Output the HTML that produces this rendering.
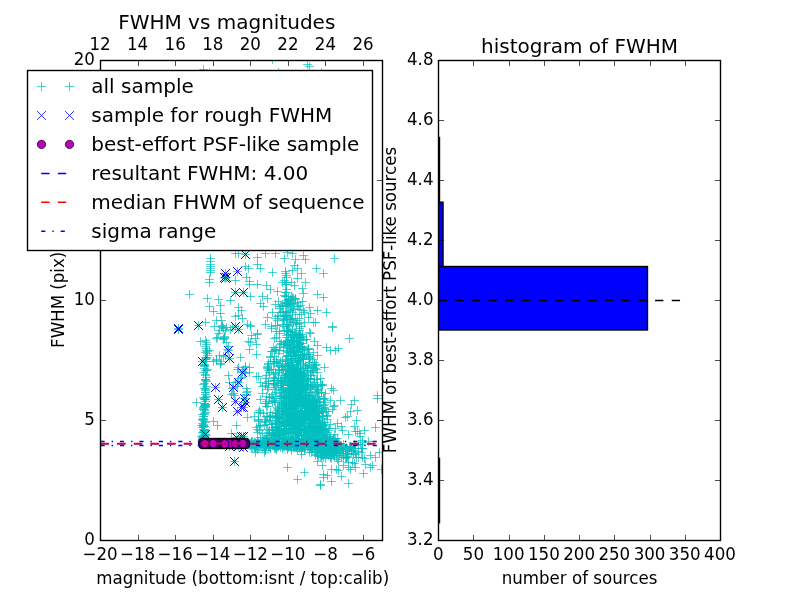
<!DOCTYPE html>
<html><head><meta charset="utf-8"><title>FWHM vs magnitudes</title>
<style>html,body{margin:0;padding:0;background:#fff;width:800px;height:600px;overflow:hidden}</style>
</head><body>
<svg width="800" height="600" viewBox="0 0 800 600" style="display:block;font-family:'DejaVu Sans', 'Liberation Sans', sans-serif">
<rect x="0" y="0" width="800" height="600" fill="#fff"/>
<defs>
<g id="p"><path d="M-4.5 0H4.5M0 -4.5V4.5" stroke="#00bfbf" stroke-width="0.7" fill="none"/></g>
<g id="x"><path d="M-4.4 -4.4L4.4 4.4M-4.4 4.4L4.4 -4.4" stroke="#0000ff" stroke-width="0.8" fill="none"/></g>
<g id="x2"><path d="M-4.4 -4.4L4.4 4.4M-4.4 4.4L4.4 -4.4" stroke="#0000ff" stroke-width="1.0" fill="none"/></g>
<g id="o"><circle r="4.17" fill="#bf00bf" stroke="#000" stroke-width="0.7"/></g>
<clipPath id="c1"><rect x="100.5" y="60.5" width="282.0" height="480.0"/></clipPath>
<clipPath id="c2"><rect x="438.5" y="60.5" width="282.0" height="480.0"/></clipPath>
</defs>
<g clip-path="url(#c1)">
<g id="allsample" stroke="#00bfbf" stroke-width="0.7" fill="none">
<path d="M199.1 435.5h8.8m-4.4-4.4v8.8M201.1 422.5h8.8m-4.4-4.4v8.8M200.1 406.5h8.8m-4.4-4.4v8.8M200.1 405.5h8.8m-4.4-4.4v8.8M198.1 419.5h8.8m-4.4-4.4v8.8M202.1 370.5h8.8m-4.4-4.4v8.8M201.1 399.5h8.8m-4.4-4.4v8.8M198.1 419.5h8.8m-4.4-4.4v8.8M200.1 403.5h8.8m-4.4-4.4v8.8M202.1 357.5h8.8m-4.4-4.4v8.8M199.1 437.5h8.8m-4.4-4.4v8.8M200.1 436.5h8.8m-4.4-4.4v8.8M198.1 439.5h8.8m-4.4-4.4v8.8M199.1 425.5h8.8m-4.4-4.4v8.8M200.1 398.5h8.8m-4.4-4.4v8.8M201.1 379.5h8.8m-4.4-4.4v8.8M198.1 439.5h8.8m-4.4-4.4v8.8M200.1 432.5h8.8m-4.4-4.4v8.8M200.1 388.5h8.8m-4.4-4.4v8.8M201.1 346.5h8.8m-4.4-4.4v8.8M203.1 355.5h8.8m-4.4-4.4v8.8M200.1 364.5h8.8m-4.4-4.4v8.8M199.1 372.5h8.8m-4.4-4.4v8.8M202.1 381.5h8.8m-4.4-4.4v8.8M201.1 390.5h8.8m-4.4-4.4v8.8M201.1 399.5h8.8m-4.4-4.4v8.8M199.1 408.5h8.8m-4.4-4.4v8.8M199.1 416.5h8.8m-4.4-4.4v8.8M197.1 425.5h8.8m-4.4-4.4v8.8M200.1 434.5h8.8m-4.4-4.4v8.8M220.1 336.5h8.8m-4.4-4.4v8.8M220.1 337.5h8.8m-4.4-4.4v8.8M210.1 326.5h8.8m-4.4-4.4v8.8M212.1 360.5h8.8m-4.4-4.4v8.8M213.1 337.5h8.8m-4.4-4.4v8.8M216.1 363.5h8.8m-4.4-4.4v8.8M218.1 327.5h8.8m-4.4-4.4v8.8M218.1 325.5h8.8m-4.4-4.4v8.8M236.1 378.5h8.8m-4.4-4.4v8.8M233.1 381.5h8.8m-4.4-4.4v8.8M233.1 369.5h8.8m-4.4-4.4v8.8M241.1 367.5h8.8m-4.4-4.4v8.8M233.1 386.5h8.8m-4.4-4.4v8.8M228.1 388.5h8.8m-4.4-4.4v8.8M217.1 320.5h8.8m-4.4-4.4v8.8M284.1 296.5h8.8m-4.4-4.4v8.8M284.1 299.5h8.8m-4.4-4.4v8.8M284.1 301.5h8.8m-4.4-4.4v8.8M290.1 303.5h8.8m-4.4-4.4v8.8M286.1 303.5h8.8m-4.4-4.4v8.8M282.1 304.5h8.8m-4.4-4.4v8.8M287.1 306.5h8.8m-4.4-4.4v8.8M293.1 306.5h8.8m-4.4-4.4v8.8M289.1 309.5h8.8m-4.4-4.4v8.8M279.1 311.5h8.8m-4.4-4.4v8.8M288.1 312.5h8.8m-4.4-4.4v8.8M291.1 314.5h8.8m-4.4-4.4v8.8M273.1 316.5h8.8m-4.4-4.4v8.8M279.1 318.5h8.8m-4.4-4.4v8.8M287.1 319.5h8.8m-4.4-4.4v8.8M293.1 320.5h8.8m-4.4-4.4v8.8M291.1 322.5h8.8m-4.4-4.4v8.8M283.1 324.5h8.8m-4.4-4.4v8.8M297.1 326.5h8.8m-4.4-4.4v8.8M288.1 329.5h8.8m-4.4-4.4v8.8M282.1 330.5h8.8m-4.4-4.4v8.8M288.1 331.5h8.8m-4.4-4.4v8.8M290.1 332.5h8.8m-4.4-4.4v8.8M298.1 334.5h8.8m-4.4-4.4v8.8M292.1 334.5h8.8m-4.4-4.4v8.8M290.1 335.5h8.8m-4.4-4.4v8.8M282.1 335.5h8.8m-4.4-4.4v8.8M272.1 337.5h8.8m-4.4-4.4v8.8M295.1 337.5h8.8m-4.4-4.4v8.8M293.1 338.5h8.8m-4.4-4.4v8.8M287.1 339.5h8.8m-4.4-4.4v8.8M289.1 340.5h8.8m-4.4-4.4v8.8M284.1 341.5h8.8m-4.4-4.4v8.8M292.1 342.5h8.8m-4.4-4.4v8.8M294.1 342.5h8.8m-4.4-4.4v8.8M296.1 343.5h8.8m-4.4-4.4v8.8M276.1 344.5h8.8m-4.4-4.4v8.8M283.1 345.5h8.8m-4.4-4.4v8.8M282.1 346.5h8.8m-4.4-4.4v8.8M292.1 346.5h8.8m-4.4-4.4v8.8M269.1 347.5h8.8m-4.4-4.4v8.8M288.1 347.5h8.8m-4.4-4.4v8.8M293.1 348.5h8.8m-4.4-4.4v8.8M272.1 349.5h8.8m-4.4-4.4v8.8M303.1 349.5h8.8m-4.4-4.4v8.8M299.1 350.5h8.8m-4.4-4.4v8.8M275.1 350.5h8.8m-4.4-4.4v8.8M293.1 351.5h8.8m-4.4-4.4v8.8M285.1 352.5h8.8m-4.4-4.4v8.8M294.1 352.5h8.8m-4.4-4.4v8.8M286.1 353.5h8.8m-4.4-4.4v8.8M292.1 354.5h8.8m-4.4-4.4v8.8M284.1 355.5h8.8m-4.4-4.4v8.8M302.1 355.5h8.8m-4.4-4.4v8.8M266.1 356.5h8.8m-4.4-4.4v8.8M291.1 356.5h8.8m-4.4-4.4v8.8M295.1 358.5h8.8m-4.4-4.4v8.8M286.1 358.5h8.8m-4.4-4.4v8.8M299.1 358.5h8.8m-4.4-4.4v8.8M281.1 359.5h8.8m-4.4-4.4v8.8M293.1 360.5h8.8m-4.4-4.4v8.8M295.1 360.5h8.8m-4.4-4.4v8.8M293.1 361.5h8.8m-4.4-4.4v8.8M272.1 362.5h8.8m-4.4-4.4v8.8M292.1 362.5h8.8m-4.4-4.4v8.8M270.1 363.5h8.8m-4.4-4.4v8.8M273.1 363.5h8.8m-4.4-4.4v8.8M288.1 364.5h8.8m-4.4-4.4v8.8M311.1 365.5h8.8m-4.4-4.4v8.8M284.1 365.5h8.8m-4.4-4.4v8.8M283.1 366.5h8.8m-4.4-4.4v8.8M301.1 366.5h8.8m-4.4-4.4v8.8M307.1 366.5h8.8m-4.4-4.4v8.8M277.1 367.5h8.8m-4.4-4.4v8.8M294.1 368.5h8.8m-4.4-4.4v8.8M283.1 368.5h8.8m-4.4-4.4v8.8M296.1 368.5h8.8m-4.4-4.4v8.8M281.1 369.5h8.8m-4.4-4.4v8.8M294.1 369.5h8.8m-4.4-4.4v8.8M283.1 369.5h8.8m-4.4-4.4v8.8M308.1 370.5h8.8m-4.4-4.4v8.8M292.1 370.5h8.8m-4.4-4.4v8.8M286.1 371.5h8.8m-4.4-4.4v8.8M297.1 371.5h8.8m-4.4-4.4v8.8M295.1 372.5h8.8m-4.4-4.4v8.8M313.1 372.5h8.8m-4.4-4.4v8.8M296.1 372.5h8.8m-4.4-4.4v8.8M283.1 373.5h8.8m-4.4-4.4v8.8M297.1 373.5h8.8m-4.4-4.4v8.8M299.1 373.5h8.8m-4.4-4.4v8.8M282.1 374.5h8.8m-4.4-4.4v8.8M293.1 374.5h8.8m-4.4-4.4v8.8M297.1 375.5h8.8m-4.4-4.4v8.8M277.1 375.5h8.8m-4.4-4.4v8.8M307.1 375.5h8.8m-4.4-4.4v8.8M288.1 376.5h8.8m-4.4-4.4v8.8M297.1 376.5h8.8m-4.4-4.4v8.8M291.1 377.5h8.8m-4.4-4.4v8.8M290.1 377.5h8.8m-4.4-4.4v8.8M274.1 378.5h8.8m-4.4-4.4v8.8M274.1 378.5h8.8m-4.4-4.4v8.8M295.1 378.5h8.8m-4.4-4.4v8.8M287.1 378.5h8.8m-4.4-4.4v8.8M313.1 379.5h8.8m-4.4-4.4v8.8M310.1 379.5h8.8m-4.4-4.4v8.8M287.1 379.5h8.8m-4.4-4.4v8.8M296.1 379.5h8.8m-4.4-4.4v8.8M282.1 380.5h8.8m-4.4-4.4v8.8M302.1 380.5h8.8m-4.4-4.4v8.8M293.1 380.5h8.8m-4.4-4.4v8.8M284.1 380.5h8.8m-4.4-4.4v8.8M264.1 381.5h8.8m-4.4-4.4v8.8M294.1 381.5h8.8m-4.4-4.4v8.8M276.1 382.5h8.8m-4.4-4.4v8.8M291.1 382.5h8.8m-4.4-4.4v8.8M293.1 382.5h8.8m-4.4-4.4v8.8M269.1 383.5h8.8m-4.4-4.4v8.8M284.1 383.5h8.8m-4.4-4.4v8.8M294.1 383.5h8.8m-4.4-4.4v8.8M291.1 383.5h8.8m-4.4-4.4v8.8M290.1 384.5h8.8m-4.4-4.4v8.8M318.1 384.5h8.8m-4.4-4.4v8.8M317.1 385.5h8.8m-4.4-4.4v8.8M261.1 385.5h8.8m-4.4-4.4v8.8M284.1 385.5h8.8m-4.4-4.4v8.8M291.1 385.5h8.8m-4.4-4.4v8.8M293.1 386.5h8.8m-4.4-4.4v8.8M306.1 386.5h8.8m-4.4-4.4v8.8M303.1 386.5h8.8m-4.4-4.4v8.8M292.1 387.5h8.8m-4.4-4.4v8.8M292.1 387.5h8.8m-4.4-4.4v8.8M272.1 387.5h8.8m-4.4-4.4v8.8M286.1 387.5h8.8m-4.4-4.4v8.8M279.1 388.5h8.8m-4.4-4.4v8.8M286.1 388.5h8.8m-4.4-4.4v8.8M294.1 388.5h8.8m-4.4-4.4v8.8M290.1 389.5h8.8m-4.4-4.4v8.8M291.1 389.5h8.8m-4.4-4.4v8.8M302.1 389.5h8.8m-4.4-4.4v8.8M278.1 390.5h8.8m-4.4-4.4v8.8M284.1 390.5h8.8m-4.4-4.4v8.8M296.1 390.5h8.8m-4.4-4.4v8.8M296.1 391.5h8.8m-4.4-4.4v8.8M281.1 391.5h8.8m-4.4-4.4v8.8M285.1 392.5h8.8m-4.4-4.4v8.8M305.1 392.5h8.8m-4.4-4.4v8.8M280.1 392.5h8.8m-4.4-4.4v8.8M313.1 392.5h8.8m-4.4-4.4v8.8M258.1 393.5h8.8m-4.4-4.4v8.8M294.1 393.5h8.8m-4.4-4.4v8.8M287.1 393.5h8.8m-4.4-4.4v8.8M289.1 394.5h8.8m-4.4-4.4v8.8M287.1 395.5h8.8m-4.4-4.4v8.8M308.1 395.5h8.8m-4.4-4.4v8.8M295.1 395.5h8.8m-4.4-4.4v8.8M281.1 396.5h8.8m-4.4-4.4v8.8M282.1 396.5h8.8m-4.4-4.4v8.8M305.1 396.5h8.8m-4.4-4.4v8.8M265.1 397.5h8.8m-4.4-4.4v8.8M280.1 397.5h8.8m-4.4-4.4v8.8M281.1 397.5h8.8m-4.4-4.4v8.8M295.1 397.5h8.8m-4.4-4.4v8.8M296.1 398.5h8.8m-4.4-4.4v8.8M305.1 398.5h8.8m-4.4-4.4v8.8M282.1 398.5h8.8m-4.4-4.4v8.8M306.1 398.5h8.8m-4.4-4.4v8.8M319.1 399.5h8.8m-4.4-4.4v8.8M302.1 399.5h8.8m-4.4-4.4v8.8M294.1 400.5h8.8m-4.4-4.4v8.8M310.1 400.5h8.8m-4.4-4.4v8.8M305.1 400.5h8.8m-4.4-4.4v8.8M292.1 401.5h8.8m-4.4-4.4v8.8M288.1 401.5h8.8m-4.4-4.4v8.8M309.1 401.5h8.8m-4.4-4.4v8.8M292.1 401.5h8.8m-4.4-4.4v8.8M290.1 401.5h8.8m-4.4-4.4v8.8M315.1 402.5h8.8m-4.4-4.4v8.8M321.1 402.5h8.8m-4.4-4.4v8.8M303.1 402.5h8.8m-4.4-4.4v8.8M281.1 402.5h8.8m-4.4-4.4v8.8M277.1 402.5h8.8m-4.4-4.4v8.8M290.1 402.5h8.8m-4.4-4.4v8.8M261.1 403.5h8.8m-4.4-4.4v8.8M304.1 403.5h8.8m-4.4-4.4v8.8M304.1 403.5h8.8m-4.4-4.4v8.8M282.1 403.5h8.8m-4.4-4.4v8.8M277.1 404.5h8.8m-4.4-4.4v8.8M280.1 404.5h8.8m-4.4-4.4v8.8M299.1 404.5h8.8m-4.4-4.4v8.8M296.1 404.5h8.8m-4.4-4.4v8.8M311.1 405.5h8.8m-4.4-4.4v8.8M286.1 405.5h8.8m-4.4-4.4v8.8M280.1 405.5h8.8m-4.4-4.4v8.8M315.1 405.5h8.8m-4.4-4.4v8.8M293.1 405.5h8.8m-4.4-4.4v8.8M289.1 406.5h8.8m-4.4-4.4v8.8M312.1 406.5h8.8m-4.4-4.4v8.8M262.1 406.5h8.8m-4.4-4.4v8.8M288.1 406.5h8.8m-4.4-4.4v8.8M278.1 406.5h8.8m-4.4-4.4v8.8M285.1 407.5h8.8m-4.4-4.4v8.8M305.1 407.5h8.8m-4.4-4.4v8.8M296.1 407.5h8.8m-4.4-4.4v8.8M273.1 407.5h8.8m-4.4-4.4v8.8M281.1 408.5h8.8m-4.4-4.4v8.8M284.1 408.5h8.8m-4.4-4.4v8.8M298.1 408.5h8.8m-4.4-4.4v8.8M273.1 408.5h8.8m-4.4-4.4v8.8M307.1 409.5h8.8m-4.4-4.4v8.8M284.1 409.5h8.8m-4.4-4.4v8.8M274.1 409.5h8.8m-4.4-4.4v8.8M279.1 410.5h8.8m-4.4-4.4v8.8M288.1 410.5h8.8m-4.4-4.4v8.8M304.1 410.5h8.8m-4.4-4.4v8.8M310.1 410.5h8.8m-4.4-4.4v8.8M294.1 411.5h8.8m-4.4-4.4v8.8M279.1 411.5h8.8m-4.4-4.4v8.8M277.1 411.5h8.8m-4.4-4.4v8.8M312.1 411.5h8.8m-4.4-4.4v8.8M318.1 412.5h8.8m-4.4-4.4v8.8M256.1 412.5h8.8m-4.4-4.4v8.8M300.1 412.5h8.8m-4.4-4.4v8.8M306.1 412.5h8.8m-4.4-4.4v8.8M315.1 412.5h8.8m-4.4-4.4v8.8M315.1 413.5h8.8m-4.4-4.4v8.8M274.1 413.5h8.8m-4.4-4.4v8.8M304.1 413.5h8.8m-4.4-4.4v8.8M293.1 413.5h8.8m-4.4-4.4v8.8M305.1 413.5h8.8m-4.4-4.4v8.8M291.1 414.5h8.8m-4.4-4.4v8.8M302.1 414.5h8.8m-4.4-4.4v8.8M310.1 414.5h8.8m-4.4-4.4v8.8M303.1 414.5h8.8m-4.4-4.4v8.8M299.1 415.5h8.8m-4.4-4.4v8.8M282.1 415.5h8.8m-4.4-4.4v8.8M307.1 415.5h8.8m-4.4-4.4v8.8M271.1 416.5h8.8m-4.4-4.4v8.8M322.1 416.5h8.8m-4.4-4.4v8.8M296.1 416.5h8.8m-4.4-4.4v8.8M312.1 416.5h8.8m-4.4-4.4v8.8M263.1 416.5h8.8m-4.4-4.4v8.8M285.1 416.5h8.8m-4.4-4.4v8.8M310.1 416.5h8.8m-4.4-4.4v8.8M289.1 417.5h8.8m-4.4-4.4v8.8M291.1 417.5h8.8m-4.4-4.4v8.8M302.1 417.5h8.8m-4.4-4.4v8.8M341.1 417.5h8.8m-4.4-4.4v8.8M309.1 418.5h8.8m-4.4-4.4v8.8M297.1 418.5h8.8m-4.4-4.4v8.8M276.1 418.5h8.8m-4.4-4.4v8.8M283.1 418.5h8.8m-4.4-4.4v8.8M300.1 418.5h8.8m-4.4-4.4v8.8M323.1 419.5h8.8m-4.4-4.4v8.8M299.1 419.5h8.8m-4.4-4.4v8.8M283.1 419.5h8.8m-4.4-4.4v8.8M275.1 419.5h8.8m-4.4-4.4v8.8M287.1 419.5h8.8m-4.4-4.4v8.8M305.1 420.5h8.8m-4.4-4.4v8.8M315.1 420.5h8.8m-4.4-4.4v8.8M281.1 420.5h8.8m-4.4-4.4v8.8M289.1 421.5h8.8m-4.4-4.4v8.8M275.1 421.5h8.8m-4.4-4.4v8.8M308.1 421.5h8.8m-4.4-4.4v8.8M292.1 421.5h8.8m-4.4-4.4v8.8M274.1 421.5h8.8m-4.4-4.4v8.8M311.1 422.5h8.8m-4.4-4.4v8.8M304.1 422.5h8.8m-4.4-4.4v8.8M311.1 422.5h8.8m-4.4-4.4v8.8M315.1 422.5h8.8m-4.4-4.4v8.8M279.1 423.5h8.8m-4.4-4.4v8.8M289.1 423.5h8.8m-4.4-4.4v8.8M297.1 423.5h8.8m-4.4-4.4v8.8M300.1 423.5h8.8m-4.4-4.4v8.8M295.1 423.5h8.8m-4.4-4.4v8.8M326.1 424.5h8.8m-4.4-4.4v8.8M318.1 424.5h8.8m-4.4-4.4v8.8M318.1 424.5h8.8m-4.4-4.4v8.8M296.1 425.5h8.8m-4.4-4.4v8.8M307.1 425.5h8.8m-4.4-4.4v8.8M296.1 425.5h8.8m-4.4-4.4v8.8M289.1 425.5h8.8m-4.4-4.4v8.8M311.1 425.5h8.8m-4.4-4.4v8.8M273.1 426.5h8.8m-4.4-4.4v8.8M310.1 426.5h8.8m-4.4-4.4v8.8M255.1 426.5h8.8m-4.4-4.4v8.8M299.1 426.5h8.8m-4.4-4.4v8.8M317.1 426.5h8.8m-4.4-4.4v8.8M272.1 427.5h8.8m-4.4-4.4v8.8M314.1 427.5h8.8m-4.4-4.4v8.8M290.1 427.5h8.8m-4.4-4.4v8.8M296.1 428.5h8.8m-4.4-4.4v8.8M306.1 428.5h8.8m-4.4-4.4v8.8M283.1 428.5h8.8m-4.4-4.4v8.8M318.1 428.5h8.8m-4.4-4.4v8.8M295.1 428.5h8.8m-4.4-4.4v8.8M300.1 428.5h8.8m-4.4-4.4v8.8M279.1 429.5h8.8m-4.4-4.4v8.8M253.1 429.5h8.8m-4.4-4.4v8.8M292.1 429.5h8.8m-4.4-4.4v8.8M292.1 429.5h8.8m-4.4-4.4v8.8M286.1 429.5h8.8m-4.4-4.4v8.8M320.1 430.5h8.8m-4.4-4.4v8.8M275.1 430.5h8.8m-4.4-4.4v8.8M282.1 430.5h8.8m-4.4-4.4v8.8M284.1 430.5h8.8m-4.4-4.4v8.8M312.1 430.5h8.8m-4.4-4.4v8.8M307.1 430.5h8.8m-4.4-4.4v8.8M310.1 431.5h8.8m-4.4-4.4v8.8M320.1 431.5h8.8m-4.4-4.4v8.8M312.1 431.5h8.8m-4.4-4.4v8.8M305.1 431.5h8.8m-4.4-4.4v8.8M274.1 432.5h8.8m-4.4-4.4v8.8M318.1 432.5h8.8m-4.4-4.4v8.8M311.1 432.5h8.8m-4.4-4.4v8.8M304.1 432.5h8.8m-4.4-4.4v8.8M253.1 432.5h8.8m-4.4-4.4v8.8M287.1 432.5h8.8m-4.4-4.4v8.8M270.1 433.5h8.8m-4.4-4.4v8.8M317.1 433.5h8.8m-4.4-4.4v8.8M287.1 433.5h8.8m-4.4-4.4v8.8M293.1 433.5h8.8m-4.4-4.4v8.8M294.1 433.5h8.8m-4.4-4.4v8.8M271.1 434.5h8.8m-4.4-4.4v8.8M319.1 434.5h8.8m-4.4-4.4v8.8M305.1 434.5h8.8m-4.4-4.4v8.8M271.1 434.5h8.8m-4.4-4.4v8.8M322.1 434.5h8.8m-4.4-4.4v8.8M262.1 435.5h8.8m-4.4-4.4v8.8M276.1 435.5h8.8m-4.4-4.4v8.8M273.1 435.5h8.8m-4.4-4.4v8.8M300.1 435.5h8.8m-4.4-4.4v8.8M312.1 435.5h8.8m-4.4-4.4v8.8M270.1 436.5h8.8m-4.4-4.4v8.8M271.1 436.5h8.8m-4.4-4.4v8.8M299.1 436.5h8.8m-4.4-4.4v8.8M288.1 436.5h8.8m-4.4-4.4v8.8M305.1 437.5h8.8m-4.4-4.4v8.8M279.1 437.5h8.8m-4.4-4.4v8.8M284.1 437.5h8.8m-4.4-4.4v8.8M267.1 437.5h8.8m-4.4-4.4v8.8M314.1 438.5h8.8m-4.4-4.4v8.8M333.1 438.5h8.8m-4.4-4.4v8.8M291.1 438.5h8.8m-4.4-4.4v8.8M311.1 438.5h8.8m-4.4-4.4v8.8M318.1 438.5h8.8m-4.4-4.4v8.8M268.1 438.5h8.8m-4.4-4.4v8.8M284.1 439.5h8.8m-4.4-4.4v8.8M329.1 439.5h8.8m-4.4-4.4v8.8M274.1 439.5h8.8m-4.4-4.4v8.8M268.1 439.5h8.8m-4.4-4.4v8.8M311.1 439.5h8.8m-4.4-4.4v8.8M297.1 440.5h8.8m-4.4-4.4v8.8M306.1 440.5h8.8m-4.4-4.4v8.8M293.1 440.5h8.8m-4.4-4.4v8.8M304.1 440.5h8.8m-4.4-4.4v8.8M306.1 440.5h8.8m-4.4-4.4v8.8M264.1 441.5h8.8m-4.4-4.4v8.8M298.1 441.5h8.8m-4.4-4.4v8.8M292.1 441.5h8.8m-4.4-4.4v8.8M364.1 441.5h8.8m-4.4-4.4v8.8M317.1 441.5h8.8m-4.4-4.4v8.8M308.1 441.5h8.8m-4.4-4.4v8.8M293.1 441.5h8.8m-4.4-4.4v8.8M272.1 442.5h8.8m-4.4-4.4v8.8M293.1 442.5h8.8m-4.4-4.4v8.8M272.1 442.5h8.8m-4.4-4.4v8.8M331.1 442.5h8.8m-4.4-4.4v8.8M314.1 442.5h8.8m-4.4-4.4v8.8M285.1 443.5h8.8m-4.4-4.4v8.8M293.1 443.5h8.8m-4.4-4.4v8.8M293.1 443.5h8.8m-4.4-4.4v8.8M280.1 443.5h8.8m-4.4-4.4v8.8M297.1 443.5h8.8m-4.4-4.4v8.8M313.1 443.5h8.8m-4.4-4.4v8.8M274.1 443.5h8.8m-4.4-4.4v8.8M297.1 444.5h8.8m-4.4-4.4v8.8M275.1 444.5h8.8m-4.4-4.4v8.8M316.1 444.5h8.8m-4.4-4.4v8.8M273.1 444.5h8.8m-4.4-4.4v8.8M272.1 444.5h8.8m-4.4-4.4v8.8M261.1 445.5h8.8m-4.4-4.4v8.8M306.1 445.5h8.8m-4.4-4.4v8.8M285.1 445.5h8.8m-4.4-4.4v8.8M313.1 445.5h8.8m-4.4-4.4v8.8M301.1 445.5h8.8m-4.4-4.4v8.8M289.1 446.5h8.8m-4.4-4.4v8.8M265.1 446.5h8.8m-4.4-4.4v8.8M286.1 446.5h8.8m-4.4-4.4v8.8M284.1 446.5h8.8m-4.4-4.4v8.8M305.1 446.5h8.8m-4.4-4.4v8.8M289.1 446.5h8.8m-4.4-4.4v8.8M251.1 338.5h8.8m-4.4-4.4v8.8M268.1 394.5h8.8m-4.4-4.4v8.8M252.1 376.5h8.8m-4.4-4.4v8.8M268.1 433.5h8.8m-4.4-4.4v8.8M270.1 401.5h8.8m-4.4-4.4v8.8M262.1 401.5h8.8m-4.4-4.4v8.8M253.1 333.5h8.8m-4.4-4.4v8.8M262.1 396.5h8.8m-4.4-4.4v8.8M270.1 361.5h8.8m-4.4-4.4v8.8M253.1 334.5h8.8m-4.4-4.4v8.8M278.1 282.5h8.8m-4.4-4.4v8.8M281.1 273.5h8.8m-4.4-4.4v8.8M324.1 444.5h8.8m-4.4-4.4v8.8M305.1 445.5h8.8m-4.4-4.4v8.8M317.1 448.5h8.8m-4.4-4.4v8.8M295.1 439.5h8.8m-4.4-4.4v8.8M264.1 443.5h8.8m-4.4-4.4v8.8M269.1 442.5h8.8m-4.4-4.4v8.8M256.1 446.5h8.8m-4.4-4.4v8.8M265.1 445.5h8.8m-4.4-4.4v8.8M260.1 447.5h8.8m-4.4-4.4v8.8M290.1 446.5h8.8m-4.4-4.4v8.8M308.1 441.5h8.8m-4.4-4.4v8.8M282.1 444.5h8.8m-4.4-4.4v8.8M299.1 441.5h8.8m-4.4-4.4v8.8M293.1 449.5h8.8m-4.4-4.4v8.8M281.1 445.5h8.8m-4.4-4.4v8.8M313.1 443.5h8.8m-4.4-4.4v8.8M321.1 450.5h8.8m-4.4-4.4v8.8M317.1 444.5h8.8m-4.4-4.4v8.8M261.1 440.5h8.8m-4.4-4.4v8.8M247.1 442.5h8.8m-4.4-4.4v8.8M306.1 447.5h8.8m-4.4-4.4v8.8M251.1 447.5h8.8m-4.4-4.4v8.8M306.1 444.5h8.8m-4.4-4.4v8.8M250.1 446.5h8.8m-4.4-4.4v8.8M272.1 449.5h8.8m-4.4-4.4v8.8M298.1 446.5h8.8m-4.4-4.4v8.8M278.1 447.5h8.8m-4.4-4.4v8.8M279.1 444.5h8.8m-4.4-4.4v8.8M313.1 443.5h8.8m-4.4-4.4v8.8M272.1 445.5h8.8m-4.4-4.4v8.8M296.1 444.5h8.8m-4.4-4.4v8.8M266.1 448.5h8.8m-4.4-4.4v8.8M274.1 443.5h8.8m-4.4-4.4v8.8M306.1 443.5h8.8m-4.4-4.4v8.8M316.1 443.5h8.8m-4.4-4.4v8.8M264.1 444.5h8.8m-4.4-4.4v8.8M324.1 444.5h8.8m-4.4-4.4v8.8M333.1 447.5h8.8m-4.4-4.4v8.8M273.1 443.5h8.8m-4.4-4.4v8.8M304.1 444.5h8.8m-4.4-4.4v8.8M328.1 442.5h8.8m-4.4-4.4v8.8M270.1 448.5h8.8m-4.4-4.4v8.8M250.1 447.5h8.8m-4.4-4.4v8.8M290.1 447.5h8.8m-4.4-4.4v8.8M318.1 444.5h8.8m-4.4-4.4v8.8M281.1 443.5h8.8m-4.4-4.4v8.8M272.1 442.5h8.8m-4.4-4.4v8.8M264.1 444.5h8.8m-4.4-4.4v8.8M286.1 446.5h8.8m-4.4-4.4v8.8M333.1 444.5h8.8m-4.4-4.4v8.8M302.1 444.5h8.8m-4.4-4.4v8.8M271.1 446.5h8.8m-4.4-4.4v8.8M249.1 444.5h8.8m-4.4-4.4v8.8M331.1 445.5h8.8m-4.4-4.4v8.8M281.1 444.5h8.8m-4.4-4.4v8.8M320.1 437.5h8.8m-4.4-4.4v8.8M266.1 443.5h8.8m-4.4-4.4v8.8M316.1 444.5h8.8m-4.4-4.4v8.8M274.1 442.5h8.8m-4.4-4.4v8.8M281.1 443.5h8.8m-4.4-4.4v8.8M251.1 442.5h8.8m-4.4-4.4v8.8M280.1 445.5h8.8m-4.4-4.4v8.8M265.1 444.5h8.8m-4.4-4.4v8.8M305.1 445.5h8.8m-4.4-4.4v8.8M292.1 444.5h8.8m-4.4-4.4v8.8M298.1 446.5h8.8m-4.4-4.4v8.8M303.1 442.5h8.8m-4.4-4.4v8.8M325.1 444.5h8.8m-4.4-4.4v8.8M269.1 445.5h8.8m-4.4-4.4v8.8M284.1 441.5h8.8m-4.4-4.4v8.8M320.1 441.5h8.8m-4.4-4.4v8.8M253.1 443.5h8.8m-4.4-4.4v8.8M289.1 445.5h8.8m-4.4-4.4v8.8M269.1 444.5h8.8m-4.4-4.4v8.8M319.1 445.5h8.8m-4.4-4.4v8.8M318.1 441.5h8.8m-4.4-4.4v8.8M305.1 445.5h8.8m-4.4-4.4v8.8M284.1 444.5h8.8m-4.4-4.4v8.8M332.1 445.5h8.8m-4.4-4.4v8.8M324.1 441.5h8.8m-4.4-4.4v8.8M330.1 442.5h8.8m-4.4-4.4v8.8M261.1 450.5h8.8m-4.4-4.4v8.8M337.1 457.5h8.8m-4.4-4.4v8.8M330.1 449.5h8.8m-4.4-4.4v8.8M327.1 451.5h8.8m-4.4-4.4v8.8M321.1 449.5h8.8m-4.4-4.4v8.8M328.1 448.5h8.8m-4.4-4.4v8.8M324.1 447.5h8.8m-4.4-4.4v8.8M335.1 450.5h8.8m-4.4-4.4v8.8M339.1 447.5h8.8m-4.4-4.4v8.8M318.1 446.5h8.8m-4.4-4.4v8.8M331.1 446.5h8.8m-4.4-4.4v8.8M327.1 452.5h8.8m-4.4-4.4v8.8M300.1 449.5h8.8m-4.4-4.4v8.8M335.1 450.5h8.8m-4.4-4.4v8.8M313.1 448.5h8.8m-4.4-4.4v8.8M337.1 447.5h8.8m-4.4-4.4v8.8M332.1 446.5h8.8m-4.4-4.4v8.8M319.1 449.5h8.8m-4.4-4.4v8.8M317.1 449.5h8.8m-4.4-4.4v8.8M323.1 447.5h8.8m-4.4-4.4v8.8M341.1 458.5h8.8m-4.4-4.4v8.8M330.1 456.5h8.8m-4.4-4.4v8.8M317.1 455.5h8.8m-4.4-4.4v8.8M314.1 449.5h8.8m-4.4-4.4v8.8M315.1 449.5h8.8m-4.4-4.4v8.8M327.1 450.5h8.8m-4.4-4.4v8.8M331.1 447.5h8.8m-4.4-4.4v8.8M319.1 448.5h8.8m-4.4-4.4v8.8M324.1 451.5h8.8m-4.4-4.4v8.8M297.1 451.5h8.8m-4.4-4.4v8.8M329.1 449.5h8.8m-4.4-4.4v8.8M321.1 449.5h8.8m-4.4-4.4v8.8M332.1 451.5h8.8m-4.4-4.4v8.8M314.1 447.5h8.8m-4.4-4.4v8.8M315.1 446.5h8.8m-4.4-4.4v8.8M317.1 455.5h8.8m-4.4-4.4v8.8M317.1 446.5h8.8m-4.4-4.4v8.8M322.1 447.5h8.8m-4.4-4.4v8.8M351.1 454.5h8.8m-4.4-4.4v8.8M327.1 458.5h8.8m-4.4-4.4v8.8M322.1 454.5h8.8m-4.4-4.4v8.8M332.1 457.5h8.8m-4.4-4.4v8.8M345.1 449.5h8.8m-4.4-4.4v8.8M321.1 449.5h8.8m-4.4-4.4v8.8M338.1 453.5h8.8m-4.4-4.4v8.8M314.1 448.5h8.8m-4.4-4.4v8.8M330.1 451.5h8.8m-4.4-4.4v8.8M345.1 446.5h8.8m-4.4-4.4v8.8M330.1 450.5h8.8m-4.4-4.4v8.8M313.1 446.5h8.8m-4.4-4.4v8.8M349.1 448.5h8.8m-4.4-4.4v8.8M358.1 448.5h8.8m-4.4-4.4v8.8M315.1 449.5h8.8m-4.4-4.4v8.8M357.1 448.5h8.8m-4.4-4.4v8.8M330.1 434.5h8.8m-4.4-4.4v8.8M344.1 454.5h8.8m-4.4-4.4v8.8M339.1 444.5h8.8m-4.4-4.4v8.8M360.1 430.5h8.8m-4.4-4.4v8.8M349.1 454.5h8.8m-4.4-4.4v8.8M338.1 430.5h8.8m-4.4-4.4v8.8M354.1 457.5h8.8m-4.4-4.4v8.8M334.1 450.5h8.8m-4.4-4.4v8.8M346.1 411.5h8.8m-4.4-4.4v8.8M350.1 400.5h8.8m-4.4-4.4v8.8M205.1 306.5h8.8m-4.4-4.4v8.8M231.1 280.5h8.8m-4.4-4.4v8.8M244.1 268.5h8.8m-4.4-4.4v8.8M261.1 253.5h8.8m-4.4-4.4v8.8M245.1 284.5h8.8m-4.4-4.4v8.8M266.1 289.5h8.8m-4.4-4.4v8.8M263.1 298.5h8.8m-4.4-4.4v8.8M237.1 310.5h8.8m-4.4-4.4v8.8M274.1 301.5h8.8m-4.4-4.4v8.8M330.1 258.5h8.8m-4.4-4.4v8.8M301.1 259.5h8.8m-4.4-4.4v8.8M280.1 258.5h8.8m-4.4-4.4v8.8M288.1 270.5h8.8m-4.4-4.4v8.8M282.1 289.5h8.8m-4.4-4.4v8.8M298.1 288.5h8.8m-4.4-4.4v8.8M288.1 297.5h8.8m-4.4-4.4v8.8M298.1 301.5h8.8m-4.4-4.4v8.8M306.1 313.5h8.8m-4.4-4.4v8.8M345.1 338.5h8.8m-4.4-4.4v8.8M334.1 348.5h8.8m-4.4-4.4v8.8M313.1 345.5h8.8m-4.4-4.4v8.8M316.1 378.5h8.8m-4.4-4.4v8.8M373.1 395.5h8.8m-4.4-4.4v8.8M232.1 425.5h8.8m-4.4-4.4v8.8M196.1 341.5h8.8m-4.4-4.4v8.8M236.1 357.5h8.8m-4.4-4.4v8.8M371.1 427.5h8.8m-4.4-4.4v8.8M316.1 484.5h8.8m-4.4-4.4v8.8M327.1 481.5h8.8m-4.4-4.4v8.8M327.1 469.5h8.8m-4.4-4.4v8.8M368.1 465.5h8.8m-4.4-4.4v8.8M375.1 452.5h8.8m-4.4-4.4v8.8M199.1 69.5h8.8m-4.4-4.4v8.8M290.1 74.5h8.8m-4.4-4.4v8.8M206.1 261.5h8.8m-4.4-4.4v8.8M206.1 270.5h8.8m-4.4-4.4v8.8M241.1 254.5h8.8m-4.4-4.4v8.8M221.1 278.5h8.8m-4.4-4.4v8.8M174.1 328.5h8.8m-4.4-4.4v8.8M234.1 329.5h8.8m-4.4-4.4v8.8M238.1 372.5h8.8m-4.4-4.4v8.8M214.1 399.5h8.8m-4.4-4.4v8.8M241.1 402.5h8.8m-4.4-4.4v8.8M201.1 434.5h8.8m-4.4-4.4v8.8M232.1 437.5h8.8m-4.4-4.4v8.8"/>
<path d="M203.1 369.5h8.8m-4.4-4.4v8.8M202.1 350.5h8.8m-4.4-4.4v8.8M199.1 425.5h8.8m-4.4-4.4v8.8M198.1 414.5h8.8m-4.4-4.4v8.8M200.1 406.5h8.8m-4.4-4.4v8.8M199.1 429.5h8.8m-4.4-4.4v8.8M200.1 399.5h8.8m-4.4-4.4v8.8M201.1 404.5h8.8m-4.4-4.4v8.8M199.1 418.5h8.8m-4.4-4.4v8.8M201.1 406.5h8.8m-4.4-4.4v8.8M201.1 404.5h8.8m-4.4-4.4v8.8M199.1 409.5h8.8m-4.4-4.4v8.8M197.1 436.5h8.8m-4.4-4.4v8.8M200.1 426.5h8.8m-4.4-4.4v8.8M199.1 427.5h8.8m-4.4-4.4v8.8M200.1 430.5h8.8m-4.4-4.4v8.8M199.1 431.5h8.8m-4.4-4.4v8.8M207.1 170.5h8.8m-4.4-4.4v8.8M201.1 340.5h8.8m-4.4-4.4v8.8M202.1 348.5h8.8m-4.4-4.4v8.8M201.1 357.5h8.8m-4.4-4.4v8.8M200.1 366.5h8.8m-4.4-4.4v8.8M201.1 375.5h8.8m-4.4-4.4v8.8M200.1 383.5h8.8m-4.4-4.4v8.8M201.1 392.5h8.8m-4.4-4.4v8.8M201.1 401.5h8.8m-4.4-4.4v8.8M200.1 410.5h8.8m-4.4-4.4v8.8M199.1 419.5h8.8m-4.4-4.4v8.8M198.1 427.5h8.8m-4.4-4.4v8.8M200.1 436.5h8.8m-4.4-4.4v8.8M224.1 346.5h8.8m-4.4-4.4v8.8M215.1 355.5h8.8m-4.4-4.4v8.8M221.1 355.5h8.8m-4.4-4.4v8.8M212.1 338.5h8.8m-4.4-4.4v8.8M217.1 361.5h8.8m-4.4-4.4v8.8M219.1 339.5h8.8m-4.4-4.4v8.8M217.1 326.5h8.8m-4.4-4.4v8.8M245.1 367.5h8.8m-4.4-4.4v8.8M242.1 392.5h8.8m-4.4-4.4v8.8M241.1 373.5h8.8m-4.4-4.4v8.8M227.1 394.5h8.8m-4.4-4.4v8.8M241.1 366.5h8.8m-4.4-4.4v8.8M239.1 369.5h8.8m-4.4-4.4v8.8M209.1 311.5h8.8m-4.4-4.4v8.8M226.1 300.5h8.8m-4.4-4.4v8.8M282.1 296.5h8.8m-4.4-4.4v8.8M286.1 299.5h8.8m-4.4-4.4v8.8M283.1 302.5h8.8m-4.4-4.4v8.8M282.1 303.5h8.8m-4.4-4.4v8.8M282.1 303.5h8.8m-4.4-4.4v8.8M283.1 305.5h8.8m-4.4-4.4v8.8M277.1 306.5h8.8m-4.4-4.4v8.8M275.1 308.5h8.8m-4.4-4.4v8.8M299.1 310.5h8.8m-4.4-4.4v8.8M276.1 312.5h8.8m-4.4-4.4v8.8M278.1 312.5h8.8m-4.4-4.4v8.8M281.1 315.5h8.8m-4.4-4.4v8.8M282.1 316.5h8.8m-4.4-4.4v8.8M288.1 318.5h8.8m-4.4-4.4v8.8M282.1 319.5h8.8m-4.4-4.4v8.8M286.1 321.5h8.8m-4.4-4.4v8.8M292.1 323.5h8.8m-4.4-4.4v8.8M278.1 324.5h8.8m-4.4-4.4v8.8M284.1 326.5h8.8m-4.4-4.4v8.8M280.1 330.5h8.8m-4.4-4.4v8.8M295.1 330.5h8.8m-4.4-4.4v8.8M283.1 331.5h8.8m-4.4-4.4v8.8M286.1 332.5h8.8m-4.4-4.4v8.8M286.1 334.5h8.8m-4.4-4.4v8.8M296.1 334.5h8.8m-4.4-4.4v8.8M295.1 335.5h8.8m-4.4-4.4v8.8M288.1 336.5h8.8m-4.4-4.4v8.8M282.1 337.5h8.8m-4.4-4.4v8.8M293.1 337.5h8.8m-4.4-4.4v8.8M296.1 338.5h8.8m-4.4-4.4v8.8M287.1 340.5h8.8m-4.4-4.4v8.8M293.1 340.5h8.8m-4.4-4.4v8.8M290.1 341.5h8.8m-4.4-4.4v8.8M286.1 342.5h8.8m-4.4-4.4v8.8M285.1 343.5h8.8m-4.4-4.4v8.8M292.1 343.5h8.8m-4.4-4.4v8.8M285.1 344.5h8.8m-4.4-4.4v8.8M283.1 345.5h8.8m-4.4-4.4v8.8M289.1 346.5h8.8m-4.4-4.4v8.8M295.1 346.5h8.8m-4.4-4.4v8.8M298.1 347.5h8.8m-4.4-4.4v8.8M289.1 347.5h8.8m-4.4-4.4v8.8M285.1 348.5h8.8m-4.4-4.4v8.8M304.1 349.5h8.8m-4.4-4.4v8.8M296.1 349.5h8.8m-4.4-4.4v8.8M279.1 350.5h8.8m-4.4-4.4v8.8M267.1 351.5h8.8m-4.4-4.4v8.8M268.1 351.5h8.8m-4.4-4.4v8.8M292.1 352.5h8.8m-4.4-4.4v8.8M309.1 352.5h8.8m-4.4-4.4v8.8M300.1 353.5h8.8m-4.4-4.4v8.8M300.1 354.5h8.8m-4.4-4.4v8.8M289.1 355.5h8.8m-4.4-4.4v8.8M298.1 355.5h8.8m-4.4-4.4v8.8M282.1 356.5h8.8m-4.4-4.4v8.8M304.1 356.5h8.8m-4.4-4.4v8.8M305.1 358.5h8.8m-4.4-4.4v8.8M296.1 358.5h8.8m-4.4-4.4v8.8M296.1 358.5h8.8m-4.4-4.4v8.8M299.1 359.5h8.8m-4.4-4.4v8.8M293.1 360.5h8.8m-4.4-4.4v8.8M286.1 360.5h8.8m-4.4-4.4v8.8M276.1 361.5h8.8m-4.4-4.4v8.8M294.1 362.5h8.8m-4.4-4.4v8.8M305.1 362.5h8.8m-4.4-4.4v8.8M283.1 363.5h8.8m-4.4-4.4v8.8M312.1 364.5h8.8m-4.4-4.4v8.8M281.1 364.5h8.8m-4.4-4.4v8.8M281.1 365.5h8.8m-4.4-4.4v8.8M304.1 365.5h8.8m-4.4-4.4v8.8M293.1 366.5h8.8m-4.4-4.4v8.8M289.1 366.5h8.8m-4.4-4.4v8.8M302.1 367.5h8.8m-4.4-4.4v8.8M284.1 367.5h8.8m-4.4-4.4v8.8M263.1 368.5h8.8m-4.4-4.4v8.8M299.1 368.5h8.8m-4.4-4.4v8.8M290.1 368.5h8.8m-4.4-4.4v8.8M267.1 369.5h8.8m-4.4-4.4v8.8M285.1 369.5h8.8m-4.4-4.4v8.8M290.1 370.5h8.8m-4.4-4.4v8.8M303.1 370.5h8.8m-4.4-4.4v8.8M284.1 370.5h8.8m-4.4-4.4v8.8M306.1 371.5h8.8m-4.4-4.4v8.8M293.1 371.5h8.8m-4.4-4.4v8.8M265.1 372.5h8.8m-4.4-4.4v8.8M288.1 372.5h8.8m-4.4-4.4v8.8M300.1 372.5h8.8m-4.4-4.4v8.8M282.1 373.5h8.8m-4.4-4.4v8.8M294.1 373.5h8.8m-4.4-4.4v8.8M269.1 374.5h8.8m-4.4-4.4v8.8M295.1 374.5h8.8m-4.4-4.4v8.8M292.1 374.5h8.8m-4.4-4.4v8.8M290.1 375.5h8.8m-4.4-4.4v8.8M304.1 375.5h8.8m-4.4-4.4v8.8M283.1 375.5h8.8m-4.4-4.4v8.8M297.1 376.5h8.8m-4.4-4.4v8.8M269.1 377.5h8.8m-4.4-4.4v8.8M290.1 377.5h8.8m-4.4-4.4v8.8M289.1 377.5h8.8m-4.4-4.4v8.8M261.1 378.5h8.8m-4.4-4.4v8.8M289.1 378.5h8.8m-4.4-4.4v8.8M306.1 378.5h8.8m-4.4-4.4v8.8M304.1 378.5h8.8m-4.4-4.4v8.8M287.1 379.5h8.8m-4.4-4.4v8.8M302.1 379.5h8.8m-4.4-4.4v8.8M284.1 379.5h8.8m-4.4-4.4v8.8M290.1 379.5h8.8m-4.4-4.4v8.8M276.1 380.5h8.8m-4.4-4.4v8.8M270.1 380.5h8.8m-4.4-4.4v8.8M286.1 380.5h8.8m-4.4-4.4v8.8M269.1 380.5h8.8m-4.4-4.4v8.8M279.1 381.5h8.8m-4.4-4.4v8.8M277.1 381.5h8.8m-4.4-4.4v8.8M310.1 382.5h8.8m-4.4-4.4v8.8M294.1 382.5h8.8m-4.4-4.4v8.8M278.1 383.5h8.8m-4.4-4.4v8.8M262.1 383.5h8.8m-4.4-4.4v8.8M291.1 383.5h8.8m-4.4-4.4v8.8M294.1 383.5h8.8m-4.4-4.4v8.8M316.1 384.5h8.8m-4.4-4.4v8.8M302.1 384.5h8.8m-4.4-4.4v8.8M303.1 384.5h8.8m-4.4-4.4v8.8M299.1 385.5h8.8m-4.4-4.4v8.8M274.1 385.5h8.8m-4.4-4.4v8.8M295.1 385.5h8.8m-4.4-4.4v8.8M271.1 385.5h8.8m-4.4-4.4v8.8M296.1 386.5h8.8m-4.4-4.4v8.8M299.1 386.5h8.8m-4.4-4.4v8.8M291.1 386.5h8.8m-4.4-4.4v8.8M298.1 387.5h8.8m-4.4-4.4v8.8M296.1 387.5h8.8m-4.4-4.4v8.8M299.1 387.5h8.8m-4.4-4.4v8.8M295.1 387.5h8.8m-4.4-4.4v8.8M285.1 388.5h8.8m-4.4-4.4v8.8M298.1 388.5h8.8m-4.4-4.4v8.8M270.1 389.5h8.8m-4.4-4.4v8.8M313.1 389.5h8.8m-4.4-4.4v8.8M295.1 389.5h8.8m-4.4-4.4v8.8M312.1 389.5h8.8m-4.4-4.4v8.8M289.1 390.5h8.8m-4.4-4.4v8.8M287.1 390.5h8.8m-4.4-4.4v8.8M294.1 390.5h8.8m-4.4-4.4v8.8M293.1 391.5h8.8m-4.4-4.4v8.8M291.1 391.5h8.8m-4.4-4.4v8.8M317.1 392.5h8.8m-4.4-4.4v8.8M271.1 392.5h8.8m-4.4-4.4v8.8M306.1 392.5h8.8m-4.4-4.4v8.8M300.1 392.5h8.8m-4.4-4.4v8.8M290.1 393.5h8.8m-4.4-4.4v8.8M321.1 393.5h8.8m-4.4-4.4v8.8M288.1 394.5h8.8m-4.4-4.4v8.8M301.1 394.5h8.8m-4.4-4.4v8.8M298.1 395.5h8.8m-4.4-4.4v8.8M293.1 395.5h8.8m-4.4-4.4v8.8M287.1 395.5h8.8m-4.4-4.4v8.8M304.1 396.5h8.8m-4.4-4.4v8.8M283.1 396.5h8.8m-4.4-4.4v8.8M276.1 396.5h8.8m-4.4-4.4v8.8M284.1 397.5h8.8m-4.4-4.4v8.8M299.1 397.5h8.8m-4.4-4.4v8.8M291.1 397.5h8.8m-4.4-4.4v8.8M281.1 397.5h8.8m-4.4-4.4v8.8M320.1 398.5h8.8m-4.4-4.4v8.8M277.1 398.5h8.8m-4.4-4.4v8.8M300.1 398.5h8.8m-4.4-4.4v8.8M279.1 398.5h8.8m-4.4-4.4v8.8M291.1 399.5h8.8m-4.4-4.4v8.8M284.1 399.5h8.8m-4.4-4.4v8.8M303.1 400.5h8.8m-4.4-4.4v8.8M301.1 400.5h8.8m-4.4-4.4v8.8M304.1 400.5h8.8m-4.4-4.4v8.8M305.1 401.5h8.8m-4.4-4.4v8.8M310.1 401.5h8.8m-4.4-4.4v8.8M302.1 401.5h8.8m-4.4-4.4v8.8M290.1 401.5h8.8m-4.4-4.4v8.8M291.1 402.5h8.8m-4.4-4.4v8.8M271.1 402.5h8.8m-4.4-4.4v8.8M310.1 402.5h8.8m-4.4-4.4v8.8M298.1 402.5h8.8m-4.4-4.4v8.8M294.1 402.5h8.8m-4.4-4.4v8.8M301.1 402.5h8.8m-4.4-4.4v8.8M264.1 403.5h8.8m-4.4-4.4v8.8M300.1 403.5h8.8m-4.4-4.4v8.8M278.1 403.5h8.8m-4.4-4.4v8.8M287.1 403.5h8.8m-4.4-4.4v8.8M284.1 403.5h8.8m-4.4-4.4v8.8M298.1 404.5h8.8m-4.4-4.4v8.8M309.1 404.5h8.8m-4.4-4.4v8.8M307.1 404.5h8.8m-4.4-4.4v8.8M285.1 404.5h8.8m-4.4-4.4v8.8M319.1 405.5h8.8m-4.4-4.4v8.8M284.1 405.5h8.8m-4.4-4.4v8.8M303.1 405.5h8.8m-4.4-4.4v8.8M330.1 405.5h8.8m-4.4-4.4v8.8M303.1 405.5h8.8m-4.4-4.4v8.8M313.1 406.5h8.8m-4.4-4.4v8.8M263.1 406.5h8.8m-4.4-4.4v8.8M302.1 406.5h8.8m-4.4-4.4v8.8M311.1 406.5h8.8m-4.4-4.4v8.8M292.1 406.5h8.8m-4.4-4.4v8.8M319.1 407.5h8.8m-4.4-4.4v8.8M282.1 407.5h8.8m-4.4-4.4v8.8M310.1 407.5h8.8m-4.4-4.4v8.8M300.1 408.5h8.8m-4.4-4.4v8.8M280.1 408.5h8.8m-4.4-4.4v8.8M309.1 408.5h8.8m-4.4-4.4v8.8M290.1 408.5h8.8m-4.4-4.4v8.8M292.1 409.5h8.8m-4.4-4.4v8.8M288.1 409.5h8.8m-4.4-4.4v8.8M309.1 409.5h8.8m-4.4-4.4v8.8M309.1 409.5h8.8m-4.4-4.4v8.8M255.1 410.5h8.8m-4.4-4.4v8.8M317.1 410.5h8.8m-4.4-4.4v8.8M273.1 410.5h8.8m-4.4-4.4v8.8M298.1 410.5h8.8m-4.4-4.4v8.8M324.1 411.5h8.8m-4.4-4.4v8.8M281.1 411.5h8.8m-4.4-4.4v8.8M303.1 411.5h8.8m-4.4-4.4v8.8M302.1 411.5h8.8m-4.4-4.4v8.8M254.1 412.5h8.8m-4.4-4.4v8.8M280.1 412.5h8.8m-4.4-4.4v8.8M297.1 412.5h8.8m-4.4-4.4v8.8M297.1 412.5h8.8m-4.4-4.4v8.8M315.1 412.5h8.8m-4.4-4.4v8.8M305.1 413.5h8.8m-4.4-4.4v8.8M288.1 413.5h8.8m-4.4-4.4v8.8M300.1 413.5h8.8m-4.4-4.4v8.8M272.1 413.5h8.8m-4.4-4.4v8.8M315.1 413.5h8.8m-4.4-4.4v8.8M307.1 414.5h8.8m-4.4-4.4v8.8M285.1 414.5h8.8m-4.4-4.4v8.8M278.1 414.5h8.8m-4.4-4.4v8.8M311.1 415.5h8.8m-4.4-4.4v8.8M291.1 415.5h8.8m-4.4-4.4v8.8M277.1 415.5h8.8m-4.4-4.4v8.8M319.1 415.5h8.8m-4.4-4.4v8.8M283.1 416.5h8.8m-4.4-4.4v8.8M262.1 416.5h8.8m-4.4-4.4v8.8M301.1 416.5h8.8m-4.4-4.4v8.8M308.1 416.5h8.8m-4.4-4.4v8.8M311.1 416.5h8.8m-4.4-4.4v8.8M295.1 416.5h8.8m-4.4-4.4v8.8M272.1 416.5h8.8m-4.4-4.4v8.8M265.1 417.5h8.8m-4.4-4.4v8.8M275.1 417.5h8.8m-4.4-4.4v8.8M243.1 417.5h8.8m-4.4-4.4v8.8M285.1 417.5h8.8m-4.4-4.4v8.8M299.1 418.5h8.8m-4.4-4.4v8.8M308.1 418.5h8.8m-4.4-4.4v8.8M285.1 418.5h8.8m-4.4-4.4v8.8M310.1 418.5h8.8m-4.4-4.4v8.8M291.1 418.5h8.8m-4.4-4.4v8.8M311.1 419.5h8.8m-4.4-4.4v8.8M286.1 419.5h8.8m-4.4-4.4v8.8M305.1 419.5h8.8m-4.4-4.4v8.8M292.1 419.5h8.8m-4.4-4.4v8.8M290.1 420.5h8.8m-4.4-4.4v8.8M286.1 420.5h8.8m-4.4-4.4v8.8M301.1 420.5h8.8m-4.4-4.4v8.8M271.1 420.5h8.8m-4.4-4.4v8.8M311.1 421.5h8.8m-4.4-4.4v8.8M254.1 421.5h8.8m-4.4-4.4v8.8M281.1 421.5h8.8m-4.4-4.4v8.8M308.1 421.5h8.8m-4.4-4.4v8.8M314.1 421.5h8.8m-4.4-4.4v8.8M320.1 422.5h8.8m-4.4-4.4v8.8M306.1 422.5h8.8m-4.4-4.4v8.8M278.1 422.5h8.8m-4.4-4.4v8.8M271.1 422.5h8.8m-4.4-4.4v8.8M317.1 423.5h8.8m-4.4-4.4v8.8M275.1 423.5h8.8m-4.4-4.4v8.8M308.1 423.5h8.8m-4.4-4.4v8.8M292.1 423.5h8.8m-4.4-4.4v8.8M316.1 423.5h8.8m-4.4-4.4v8.8M277.1 424.5h8.8m-4.4-4.4v8.8M262.1 424.5h8.8m-4.4-4.4v8.8M299.1 424.5h8.8m-4.4-4.4v8.8M281.1 425.5h8.8m-4.4-4.4v8.8M321.1 425.5h8.8m-4.4-4.4v8.8M294.1 425.5h8.8m-4.4-4.4v8.8M303.1 425.5h8.8m-4.4-4.4v8.8M293.1 425.5h8.8m-4.4-4.4v8.8M290.1 426.5h8.8m-4.4-4.4v8.8M277.1 426.5h8.8m-4.4-4.4v8.8M309.1 426.5h8.8m-4.4-4.4v8.8M296.1 426.5h8.8m-4.4-4.4v8.8M292.1 426.5h8.8m-4.4-4.4v8.8M293.1 427.5h8.8m-4.4-4.4v8.8M306.1 427.5h8.8m-4.4-4.4v8.8M303.1 427.5h8.8m-4.4-4.4v8.8M295.1 428.5h8.8m-4.4-4.4v8.8M308.1 428.5h8.8m-4.4-4.4v8.8M313.1 428.5h8.8m-4.4-4.4v8.8M296.1 428.5h8.8m-4.4-4.4v8.8M282.1 428.5h8.8m-4.4-4.4v8.8M313.1 429.5h8.8m-4.4-4.4v8.8M315.1 429.5h8.8m-4.4-4.4v8.8M311.1 429.5h8.8m-4.4-4.4v8.8M291.1 429.5h8.8m-4.4-4.4v8.8M297.1 429.5h8.8m-4.4-4.4v8.8M301.1 429.5h8.8m-4.4-4.4v8.8M295.1 430.5h8.8m-4.4-4.4v8.8M319.1 430.5h8.8m-4.4-4.4v8.8M284.1 430.5h8.8m-4.4-4.4v8.8M274.1 430.5h8.8m-4.4-4.4v8.8M308.1 430.5h8.8m-4.4-4.4v8.8M310.1 431.5h8.8m-4.4-4.4v8.8M275.1 431.5h8.8m-4.4-4.4v8.8M353.1 431.5h8.8m-4.4-4.4v8.8M277.1 431.5h8.8m-4.4-4.4v8.8M316.1 431.5h8.8m-4.4-4.4v8.8M315.1 432.5h8.8m-4.4-4.4v8.8M291.1 432.5h8.8m-4.4-4.4v8.8M297.1 432.5h8.8m-4.4-4.4v8.8M282.1 432.5h8.8m-4.4-4.4v8.8M273.1 432.5h8.8m-4.4-4.4v8.8M307.1 432.5h8.8m-4.4-4.4v8.8M293.1 433.5h8.8m-4.4-4.4v8.8M291.1 433.5h8.8m-4.4-4.4v8.8M303.1 433.5h8.8m-4.4-4.4v8.8M280.1 433.5h8.8m-4.4-4.4v8.8M281.1 433.5h8.8m-4.4-4.4v8.8M294.1 434.5h8.8m-4.4-4.4v8.8M320.1 434.5h8.8m-4.4-4.4v8.8M303.1 434.5h8.8m-4.4-4.4v8.8M301.1 434.5h8.8m-4.4-4.4v8.8M293.1 434.5h8.8m-4.4-4.4v8.8M268.1 435.5h8.8m-4.4-4.4v8.8M269.1 435.5h8.8m-4.4-4.4v8.8M275.1 435.5h8.8m-4.4-4.4v8.8M297.1 435.5h8.8m-4.4-4.4v8.8M278.1 435.5h8.8m-4.4-4.4v8.8M302.1 436.5h8.8m-4.4-4.4v8.8M286.1 436.5h8.8m-4.4-4.4v8.8M275.1 436.5h8.8m-4.4-4.4v8.8M272.1 436.5h8.8m-4.4-4.4v8.8M326.1 437.5h8.8m-4.4-4.4v8.8M305.1 437.5h8.8m-4.4-4.4v8.8M256.1 437.5h8.8m-4.4-4.4v8.8M262.1 438.5h8.8m-4.4-4.4v8.8M326.1 438.5h8.8m-4.4-4.4v8.8M282.1 438.5h8.8m-4.4-4.4v8.8M298.1 438.5h8.8m-4.4-4.4v8.8M308.1 438.5h8.8m-4.4-4.4v8.8M323.1 438.5h8.8m-4.4-4.4v8.8M274.1 439.5h8.8m-4.4-4.4v8.8M261.1 439.5h8.8m-4.4-4.4v8.8M306.1 439.5h8.8m-4.4-4.4v8.8M293.1 439.5h8.8m-4.4-4.4v8.8M292.1 439.5h8.8m-4.4-4.4v8.8M313.1 439.5h8.8m-4.4-4.4v8.8M325.1 440.5h8.8m-4.4-4.4v8.8M306.1 440.5h8.8m-4.4-4.4v8.8M294.1 440.5h8.8m-4.4-4.4v8.8M308.1 440.5h8.8m-4.4-4.4v8.8M317.1 440.5h8.8m-4.4-4.4v8.8M250.1 441.5h8.8m-4.4-4.4v8.8M254.1 441.5h8.8m-4.4-4.4v8.8M314.1 441.5h8.8m-4.4-4.4v8.8M267.1 441.5h8.8m-4.4-4.4v8.8M321.1 441.5h8.8m-4.4-4.4v8.8M293.1 441.5h8.8m-4.4-4.4v8.8M298.1 442.5h8.8m-4.4-4.4v8.8M325.1 442.5h8.8m-4.4-4.4v8.8M284.1 442.5h8.8m-4.4-4.4v8.8M305.1 442.5h8.8m-4.4-4.4v8.8M293.1 442.5h8.8m-4.4-4.4v8.8M287.1 442.5h8.8m-4.4-4.4v8.8M282.1 443.5h8.8m-4.4-4.4v8.8M303.1 443.5h8.8m-4.4-4.4v8.8M317.1 443.5h8.8m-4.4-4.4v8.8M294.1 443.5h8.8m-4.4-4.4v8.8M273.1 443.5h8.8m-4.4-4.4v8.8M298.1 443.5h8.8m-4.4-4.4v8.8M296.1 443.5h8.8m-4.4-4.4v8.8M272.1 444.5h8.8m-4.4-4.4v8.8M290.1 444.5h8.8m-4.4-4.4v8.8M282.1 444.5h8.8m-4.4-4.4v8.8M297.1 444.5h8.8m-4.4-4.4v8.8M329.1 444.5h8.8m-4.4-4.4v8.8M320.1 445.5h8.8m-4.4-4.4v8.8M274.1 445.5h8.8m-4.4-4.4v8.8M280.1 445.5h8.8m-4.4-4.4v8.8M312.1 445.5h8.8m-4.4-4.4v8.8M293.1 445.5h8.8m-4.4-4.4v8.8M259.1 446.5h8.8m-4.4-4.4v8.8M272.1 446.5h8.8m-4.4-4.4v8.8M315.1 446.5h8.8m-4.4-4.4v8.8M306.1 446.5h8.8m-4.4-4.4v8.8M298.1 446.5h8.8m-4.4-4.4v8.8M244.1 341.5h8.8m-4.4-4.4v8.8M267.1 326.5h8.8m-4.4-4.4v8.8M271.1 318.5h8.8m-4.4-4.4v8.8M252.1 344.5h8.8m-4.4-4.4v8.8M269.1 369.5h8.8m-4.4-4.4v8.8M267.1 328.5h8.8m-4.4-4.4v8.8M268.1 429.5h8.8m-4.4-4.4v8.8M246.1 342.5h8.8m-4.4-4.4v8.8M266.1 357.5h8.8m-4.4-4.4v8.8M261.1 422.5h8.8m-4.4-4.4v8.8M282.1 282.5h8.8m-4.4-4.4v8.8M282.1 284.5h8.8m-4.4-4.4v8.8M290.1 444.5h8.8m-4.4-4.4v8.8M312.1 444.5h8.8m-4.4-4.4v8.8M250.1 447.5h8.8m-4.4-4.4v8.8M275.1 445.5h8.8m-4.4-4.4v8.8M329.1 444.5h8.8m-4.4-4.4v8.8M326.1 446.5h8.8m-4.4-4.4v8.8M331.1 447.5h8.8m-4.4-4.4v8.8M309.1 445.5h8.8m-4.4-4.4v8.8M315.1 446.5h8.8m-4.4-4.4v8.8M328.1 440.5h8.8m-4.4-4.4v8.8M277.1 443.5h8.8m-4.4-4.4v8.8M310.1 440.5h8.8m-4.4-4.4v8.8M307.1 445.5h8.8m-4.4-4.4v8.8M246.1 445.5h8.8m-4.4-4.4v8.8M270.1 442.5h8.8m-4.4-4.4v8.8M258.1 447.5h8.8m-4.4-4.4v8.8M320.1 443.5h8.8m-4.4-4.4v8.8M323.1 444.5h8.8m-4.4-4.4v8.8M335.1 447.5h8.8m-4.4-4.4v8.8M323.1 441.5h8.8m-4.4-4.4v8.8M324.1 443.5h8.8m-4.4-4.4v8.8M277.1 441.5h8.8m-4.4-4.4v8.8M271.1 447.5h8.8m-4.4-4.4v8.8M322.1 446.5h8.8m-4.4-4.4v8.8M306.1 444.5h8.8m-4.4-4.4v8.8M268.1 443.5h8.8m-4.4-4.4v8.8M323.1 442.5h8.8m-4.4-4.4v8.8M330.1 446.5h8.8m-4.4-4.4v8.8M258.1 442.5h8.8m-4.4-4.4v8.8M293.1 446.5h8.8m-4.4-4.4v8.8M328.1 443.5h8.8m-4.4-4.4v8.8M303.1 445.5h8.8m-4.4-4.4v8.8M315.1 442.5h8.8m-4.4-4.4v8.8M259.1 444.5h8.8m-4.4-4.4v8.8M261.1 442.5h8.8m-4.4-4.4v8.8M270.1 445.5h8.8m-4.4-4.4v8.8M283.1 443.5h8.8m-4.4-4.4v8.8M293.1 440.5h8.8m-4.4-4.4v8.8M309.1 444.5h8.8m-4.4-4.4v8.8M322.1 443.5h8.8m-4.4-4.4v8.8M299.1 446.5h8.8m-4.4-4.4v8.8M295.1 444.5h8.8m-4.4-4.4v8.8M308.1 450.5h8.8m-4.4-4.4v8.8M248.1 441.5h8.8m-4.4-4.4v8.8M322.1 443.5h8.8m-4.4-4.4v8.8M330.1 446.5h8.8m-4.4-4.4v8.8M251.1 443.5h8.8m-4.4-4.4v8.8M334.1 444.5h8.8m-4.4-4.4v8.8M261.1 447.5h8.8m-4.4-4.4v8.8M260.1 447.5h8.8m-4.4-4.4v8.8M282.1 445.5h8.8m-4.4-4.4v8.8M287.1 447.5h8.8m-4.4-4.4v8.8M301.1 442.5h8.8m-4.4-4.4v8.8M289.1 440.5h8.8m-4.4-4.4v8.8M262.1 441.5h8.8m-4.4-4.4v8.8M299.1 446.5h8.8m-4.4-4.4v8.8M306.1 442.5h8.8m-4.4-4.4v8.8M257.1 444.5h8.8m-4.4-4.4v8.8M316.1 446.5h8.8m-4.4-4.4v8.8M265.1 442.5h8.8m-4.4-4.4v8.8M322.1 443.5h8.8m-4.4-4.4v8.8M313.1 446.5h8.8m-4.4-4.4v8.8M263.1 443.5h8.8m-4.4-4.4v8.8M283.1 448.5h8.8m-4.4-4.4v8.8M333.1 447.5h8.8m-4.4-4.4v8.8M263.1 444.5h8.8m-4.4-4.4v8.8M275.1 444.5h8.8m-4.4-4.4v8.8M286.1 444.5h8.8m-4.4-4.4v8.8M292.1 447.5h8.8m-4.4-4.4v8.8M294.1 447.5h8.8m-4.4-4.4v8.8M286.1 444.5h8.8m-4.4-4.4v8.8M301.1 446.5h8.8m-4.4-4.4v8.8M325.1 440.5h8.8m-4.4-4.4v8.8M313.1 442.5h8.8m-4.4-4.4v8.8M329.1 444.5h8.8m-4.4-4.4v8.8M281.1 445.5h8.8m-4.4-4.4v8.8M264.1 442.5h8.8m-4.4-4.4v8.8M333.1 447.5h8.8m-4.4-4.4v8.8M245.1 445.5h8.8m-4.4-4.4v8.8M307.1 445.5h8.8m-4.4-4.4v8.8M253.1 449.5h8.8m-4.4-4.4v8.8M313.1 442.5h8.8m-4.4-4.4v8.8M305.1 452.5h8.8m-4.4-4.4v8.8M332.1 446.5h8.8m-4.4-4.4v8.8M326.1 449.5h8.8m-4.4-4.4v8.8M324.1 447.5h8.8m-4.4-4.4v8.8M328.1 453.5h8.8m-4.4-4.4v8.8M324.1 455.5h8.8m-4.4-4.4v8.8M343.1 456.5h8.8m-4.4-4.4v8.8M329.1 450.5h8.8m-4.4-4.4v8.8M326.1 457.5h8.8m-4.4-4.4v8.8M314.1 446.5h8.8m-4.4-4.4v8.8M317.1 451.5h8.8m-4.4-4.4v8.8M317.1 457.5h8.8m-4.4-4.4v8.8M324.1 446.5h8.8m-4.4-4.4v8.8M317.1 450.5h8.8m-4.4-4.4v8.8M317.1 453.5h8.8m-4.4-4.4v8.8M310.1 451.5h8.8m-4.4-4.4v8.8M316.1 446.5h8.8m-4.4-4.4v8.8M311.1 452.5h8.8m-4.4-4.4v8.8M334.1 446.5h8.8m-4.4-4.4v8.8M315.1 446.5h8.8m-4.4-4.4v8.8M334.1 461.5h8.8m-4.4-4.4v8.8M341.1 448.5h8.8m-4.4-4.4v8.8M316.1 451.5h8.8m-4.4-4.4v8.8M326.1 456.5h8.8m-4.4-4.4v8.8M330.1 452.5h8.8m-4.4-4.4v8.8M297.1 454.5h8.8m-4.4-4.4v8.8M347.1 447.5h8.8m-4.4-4.4v8.8M316.1 453.5h8.8m-4.4-4.4v8.8M337.1 449.5h8.8m-4.4-4.4v8.8M316.1 449.5h8.8m-4.4-4.4v8.8M340.1 447.5h8.8m-4.4-4.4v8.8M324.1 447.5h8.8m-4.4-4.4v8.8M313.1 449.5h8.8m-4.4-4.4v8.8M329.1 452.5h8.8m-4.4-4.4v8.8M329.1 455.5h8.8m-4.4-4.4v8.8M324.1 454.5h8.8m-4.4-4.4v8.8M305.1 449.5h8.8m-4.4-4.4v8.8M359.1 473.5h8.8m-4.4-4.4v8.8M324.1 447.5h8.8m-4.4-4.4v8.8M335.1 452.5h8.8m-4.4-4.4v8.8M322.1 453.5h8.8m-4.4-4.4v8.8M332.1 453.5h8.8m-4.4-4.4v8.8M320.1 446.5h8.8m-4.4-4.4v8.8M332.1 452.5h8.8m-4.4-4.4v8.8M336.1 453.5h8.8m-4.4-4.4v8.8M342.1 457.5h8.8m-4.4-4.4v8.8M319.1 457.5h8.8m-4.4-4.4v8.8M325.1 450.5h8.8m-4.4-4.4v8.8M311.1 455.5h8.8m-4.4-4.4v8.8M313.1 461.5h8.8m-4.4-4.4v8.8M346.1 446.5h8.8m-4.4-4.4v8.8M351.1 452.5h8.8m-4.4-4.4v8.8M339.1 465.5h8.8m-4.4-4.4v8.8M333.1 441.5h8.8m-4.4-4.4v8.8M358.1 448.5h8.8m-4.4-4.4v8.8M330.1 449.5h8.8m-4.4-4.4v8.8M355.1 433.5h8.8m-4.4-4.4v8.8M357.1 452.5h8.8m-4.4-4.4v8.8M342.1 449.5h8.8m-4.4-4.4v8.8M361.1 464.5h8.8m-4.4-4.4v8.8M331.1 447.5h8.8m-4.4-4.4v8.8M351.1 445.5h8.8m-4.4-4.4v8.8M331.1 428.5h8.8m-4.4-4.4v8.8M329.1 406.5h8.8m-4.4-4.4v8.8M214.1 299.5h8.8m-4.4-4.4v8.8M231.1 253.5h8.8m-4.4-4.4v8.8M253.1 257.5h8.8m-4.4-4.4v8.8M271.1 253.5h8.8m-4.4-4.4v8.8M242.1 277.5h8.8m-4.4-4.4v8.8M273.1 291.5h8.8m-4.4-4.4v8.8M256.1 303.5h8.8m-4.4-4.4v8.8M234.1 315.5h8.8m-4.4-4.4v8.8M268.1 312.5h8.8m-4.4-4.4v8.8M312.1 268.5h8.8m-4.4-4.4v8.8M291.1 259.5h8.8m-4.4-4.4v8.8M290.1 265.5h8.8m-4.4-4.4v8.8M281.1 271.5h8.8m-4.4-4.4v8.8M281.1 292.5h8.8m-4.4-4.4v8.8M299.1 293.5h8.8m-4.4-4.4v8.8M291.1 298.5h8.8m-4.4-4.4v8.8M305.1 307.5h8.8m-4.4-4.4v8.8M304.1 317.5h8.8m-4.4-4.4v8.8M322.1 347.5h8.8m-4.4-4.4v8.8M320.1 367.5h8.8m-4.4-4.4v8.8M306.1 333.5h8.8m-4.4-4.4v8.8M318.1 385.5h8.8m-4.4-4.4v8.8M192.1 402.5h8.8m-4.4-4.4v8.8M252.1 427.5h8.8m-4.4-4.4v8.8M201.1 322.5h8.8m-4.4-4.4v8.8M336.1 400.5h8.8m-4.4-4.4v8.8M350.1 426.5h8.8m-4.4-4.4v8.8M316.1 485.5h8.8m-4.4-4.4v8.8M337.1 476.5h8.8m-4.4-4.4v8.8M344.1 467.5h8.8m-4.4-4.4v8.8M377.1 469.5h8.8m-4.4-4.4v8.8M318.1 465.5h8.8m-4.4-4.4v8.8M205.1 72.5h8.8m-4.4-4.4v8.8M292.1 74.5h8.8m-4.4-4.4v8.8M206.1 264.5h8.8m-4.4-4.4v8.8M206.1 272.5h8.8m-4.4-4.4v8.8M221.1 273.5h8.8m-4.4-4.4v8.8M233.1 271.5h8.8m-4.4-4.4v8.8M174.1 329.5h8.8m-4.4-4.4v8.8M224.1 350.5h8.8m-4.4-4.4v8.8M234.1 382.5h8.8m-4.4-4.4v8.8M218.1 407.5h8.8m-4.4-4.4v8.8M239.1 407.5h8.8m-4.4-4.4v8.8M230.1 461.5h8.8m-4.4-4.4v8.8M234.1 446.5h8.8m-4.4-4.4v8.8"/>
<path d="M206.1 230.5h8.8m-4.4-4.4v8.8M200.1 413.5h8.8m-4.4-4.4v8.8M202.1 396.5h8.8m-4.4-4.4v8.8M201.1 404.5h8.8m-4.4-4.4v8.8M199.1 416.5h8.8m-4.4-4.4v8.8M200.1 365.5h8.8m-4.4-4.4v8.8M201.1 374.5h8.8m-4.4-4.4v8.8M199.1 432.5h8.8m-4.4-4.4v8.8M199.1 420.5h8.8m-4.4-4.4v8.8M202.1 357.5h8.8m-4.4-4.4v8.8M201.1 352.5h8.8m-4.4-4.4v8.8M201.1 389.5h8.8m-4.4-4.4v8.8M201.1 397.5h8.8m-4.4-4.4v8.8M201.1 392.5h8.8m-4.4-4.4v8.8M201.1 407.5h8.8m-4.4-4.4v8.8M200.1 438.5h8.8m-4.4-4.4v8.8M201.1 438.5h8.8m-4.4-4.4v8.8M199.1 424.5h8.8m-4.4-4.4v8.8M202.1 342.5h8.8m-4.4-4.4v8.8M205.1 350.5h8.8m-4.4-4.4v8.8M201.1 359.5h8.8m-4.4-4.4v8.8M200.1 368.5h8.8m-4.4-4.4v8.8M202.1 377.5h8.8m-4.4-4.4v8.8M202.1 386.5h8.8m-4.4-4.4v8.8M201.1 394.5h8.8m-4.4-4.4v8.8M200.1 403.5h8.8m-4.4-4.4v8.8M201.1 412.5h8.8m-4.4-4.4v8.8M200.1 421.5h8.8m-4.4-4.4v8.8M200.1 430.5h8.8m-4.4-4.4v8.8M200.1 438.5h8.8m-4.4-4.4v8.8M212.1 359.5h8.8m-4.4-4.4v8.8M209.1 361.5h8.8m-4.4-4.4v8.8M223.1 349.5h8.8m-4.4-4.4v8.8M220.1 338.5h8.8m-4.4-4.4v8.8M221.1 330.5h8.8m-4.4-4.4v8.8M219.1 328.5h8.8m-4.4-4.4v8.8M214.1 333.5h8.8m-4.4-4.4v8.8M231.1 382.5h8.8m-4.4-4.4v8.8M242.1 388.5h8.8m-4.4-4.4v8.8M237.1 377.5h8.8m-4.4-4.4v8.8M229.1 393.5h8.8m-4.4-4.4v8.8M238.1 371.5h8.8m-4.4-4.4v8.8M242.1 394.5h8.8m-4.4-4.4v8.8M238.1 318.5h8.8m-4.4-4.4v8.8M281.1 296.5h8.8m-4.4-4.4v8.8M289.1 298.5h8.8m-4.4-4.4v8.8M282.1 300.5h8.8m-4.4-4.4v8.8M293.1 302.5h8.8m-4.4-4.4v8.8M285.1 303.5h8.8m-4.4-4.4v8.8M281.1 303.5h8.8m-4.4-4.4v8.8M278.1 305.5h8.8m-4.4-4.4v8.8M276.1 306.5h8.8m-4.4-4.4v8.8M289.1 308.5h8.8m-4.4-4.4v8.8M286.1 310.5h8.8m-4.4-4.4v8.8M282.1 312.5h8.8m-4.4-4.4v8.8M281.1 312.5h8.8m-4.4-4.4v8.8M283.1 315.5h8.8m-4.4-4.4v8.8M285.1 317.5h8.8m-4.4-4.4v8.8M286.1 319.5h8.8m-4.4-4.4v8.8M273.1 320.5h8.8m-4.4-4.4v8.8M289.1 322.5h8.8m-4.4-4.4v8.8M295.1 323.5h8.8m-4.4-4.4v8.8M282.1 324.5h8.8m-4.4-4.4v8.8M279.1 326.5h8.8m-4.4-4.4v8.8M283.1 330.5h8.8m-4.4-4.4v8.8M272.1 331.5h8.8m-4.4-4.4v8.8M284.1 331.5h8.8m-4.4-4.4v8.8M291.1 333.5h8.8m-4.4-4.4v8.8M288.1 334.5h8.8m-4.4-4.4v8.8M287.1 334.5h8.8m-4.4-4.4v8.8M288.1 335.5h8.8m-4.4-4.4v8.8M298.1 336.5h8.8m-4.4-4.4v8.8M292.1 337.5h8.8m-4.4-4.4v8.8M289.1 337.5h8.8m-4.4-4.4v8.8M302.1 339.5h8.8m-4.4-4.4v8.8M283.1 340.5h8.8m-4.4-4.4v8.8M290.1 341.5h8.8m-4.4-4.4v8.8M289.1 341.5h8.8m-4.4-4.4v8.8M281.1 342.5h8.8m-4.4-4.4v8.8M297.1 343.5h8.8m-4.4-4.4v8.8M279.1 344.5h8.8m-4.4-4.4v8.8M295.1 344.5h8.8m-4.4-4.4v8.8M294.1 345.5h8.8m-4.4-4.4v8.8M295.1 346.5h8.8m-4.4-4.4v8.8M296.1 346.5h8.8m-4.4-4.4v8.8M298.1 347.5h8.8m-4.4-4.4v8.8M295.1 348.5h8.8m-4.4-4.4v8.8M295.1 348.5h8.8m-4.4-4.4v8.8M271.1 349.5h8.8m-4.4-4.4v8.8M286.1 349.5h8.8m-4.4-4.4v8.8M291.1 350.5h8.8m-4.4-4.4v8.8M282.1 351.5h8.8m-4.4-4.4v8.8M290.1 351.5h8.8m-4.4-4.4v8.8M287.1 352.5h8.8m-4.4-4.4v8.8M286.1 352.5h8.8m-4.4-4.4v8.8M294.1 354.5h8.8m-4.4-4.4v8.8M297.1 354.5h8.8m-4.4-4.4v8.8M294.1 355.5h8.8m-4.4-4.4v8.8M284.1 356.5h8.8m-4.4-4.4v8.8M290.1 356.5h8.8m-4.4-4.4v8.8M306.1 357.5h8.8m-4.4-4.4v8.8M286.1 358.5h8.8m-4.4-4.4v8.8M286.1 358.5h8.8m-4.4-4.4v8.8M308.1 359.5h8.8m-4.4-4.4v8.8M299.1 359.5h8.8m-4.4-4.4v8.8M278.1 360.5h8.8m-4.4-4.4v8.8M266.1 361.5h8.8m-4.4-4.4v8.8M294.1 361.5h8.8m-4.4-4.4v8.8M287.1 362.5h8.8m-4.4-4.4v8.8M305.1 362.5h8.8m-4.4-4.4v8.8M264.1 363.5h8.8m-4.4-4.4v8.8M310.1 364.5h8.8m-4.4-4.4v8.8M288.1 364.5h8.8m-4.4-4.4v8.8M292.1 365.5h8.8m-4.4-4.4v8.8M275.1 365.5h8.8m-4.4-4.4v8.8M284.1 366.5h8.8m-4.4-4.4v8.8M278.1 366.5h8.8m-4.4-4.4v8.8M309.1 367.5h8.8m-4.4-4.4v8.8M287.1 367.5h8.8m-4.4-4.4v8.8M311.1 368.5h8.8m-4.4-4.4v8.8M303.1 368.5h8.8m-4.4-4.4v8.8M294.1 368.5h8.8m-4.4-4.4v8.8M278.1 369.5h8.8m-4.4-4.4v8.8M312.1 369.5h8.8m-4.4-4.4v8.8M275.1 370.5h8.8m-4.4-4.4v8.8M264.1 370.5h8.8m-4.4-4.4v8.8M292.1 370.5h8.8m-4.4-4.4v8.8M287.1 371.5h8.8m-4.4-4.4v8.8M296.1 371.5h8.8m-4.4-4.4v8.8M291.1 372.5h8.8m-4.4-4.4v8.8M309.1 372.5h8.8m-4.4-4.4v8.8M271.1 373.5h8.8m-4.4-4.4v8.8M292.1 373.5h8.8m-4.4-4.4v8.8M293.1 373.5h8.8m-4.4-4.4v8.8M293.1 374.5h8.8m-4.4-4.4v8.8M298.1 374.5h8.8m-4.4-4.4v8.8M299.1 374.5h8.8m-4.4-4.4v8.8M262.1 375.5h8.8m-4.4-4.4v8.8M306.1 375.5h8.8m-4.4-4.4v8.8M281.1 375.5h8.8m-4.4-4.4v8.8M283.1 376.5h8.8m-4.4-4.4v8.8M297.1 377.5h8.8m-4.4-4.4v8.8M289.1 377.5h8.8m-4.4-4.4v8.8M270.1 378.5h8.8m-4.4-4.4v8.8M280.1 378.5h8.8m-4.4-4.4v8.8M292.1 378.5h8.8m-4.4-4.4v8.8M297.1 378.5h8.8m-4.4-4.4v8.8M296.1 378.5h8.8m-4.4-4.4v8.8M296.1 379.5h8.8m-4.4-4.4v8.8M312.1 379.5h8.8m-4.4-4.4v8.8M296.1 379.5h8.8m-4.4-4.4v8.8M291.1 379.5h8.8m-4.4-4.4v8.8M274.1 380.5h8.8m-4.4-4.4v8.8M300.1 380.5h8.8m-4.4-4.4v8.8M281.1 380.5h8.8m-4.4-4.4v8.8M293.1 380.5h8.8m-4.4-4.4v8.8M288.1 381.5h8.8m-4.4-4.4v8.8M303.1 381.5h8.8m-4.4-4.4v8.8M299.1 382.5h8.8m-4.4-4.4v8.8M288.1 382.5h8.8m-4.4-4.4v8.8M264.1 383.5h8.8m-4.4-4.4v8.8M294.1 383.5h8.8m-4.4-4.4v8.8M291.1 383.5h8.8m-4.4-4.4v8.8M290.1 383.5h8.8m-4.4-4.4v8.8M309.1 384.5h8.8m-4.4-4.4v8.8M284.1 384.5h8.8m-4.4-4.4v8.8M283.1 384.5h8.8m-4.4-4.4v8.8M279.1 385.5h8.8m-4.4-4.4v8.8M285.1 385.5h8.8m-4.4-4.4v8.8M284.1 385.5h8.8m-4.4-4.4v8.8M301.1 385.5h8.8m-4.4-4.4v8.8M297.1 386.5h8.8m-4.4-4.4v8.8M291.1 386.5h8.8m-4.4-4.4v8.8M304.1 386.5h8.8m-4.4-4.4v8.8M311.1 387.5h8.8m-4.4-4.4v8.8M292.1 387.5h8.8m-4.4-4.4v8.8M264.1 387.5h8.8m-4.4-4.4v8.8M300.1 387.5h8.8m-4.4-4.4v8.8M291.1 388.5h8.8m-4.4-4.4v8.8M306.1 388.5h8.8m-4.4-4.4v8.8M263.1 389.5h8.8m-4.4-4.4v8.8M301.1 389.5h8.8m-4.4-4.4v8.8M285.1 389.5h8.8m-4.4-4.4v8.8M296.1 390.5h8.8m-4.4-4.4v8.8M285.1 390.5h8.8m-4.4-4.4v8.8M276.1 390.5h8.8m-4.4-4.4v8.8M291.1 390.5h8.8m-4.4-4.4v8.8M312.1 391.5h8.8m-4.4-4.4v8.8M284.1 391.5h8.8m-4.4-4.4v8.8M303.1 392.5h8.8m-4.4-4.4v8.8M297.1 392.5h8.8m-4.4-4.4v8.8M293.1 392.5h8.8m-4.4-4.4v8.8M279.1 392.5h8.8m-4.4-4.4v8.8M289.1 393.5h8.8m-4.4-4.4v8.8M295.1 393.5h8.8m-4.4-4.4v8.8M307.1 394.5h8.8m-4.4-4.4v8.8M285.1 394.5h8.8m-4.4-4.4v8.8M277.1 395.5h8.8m-4.4-4.4v8.8M290.1 395.5h8.8m-4.4-4.4v8.8M287.1 395.5h8.8m-4.4-4.4v8.8M289.1 396.5h8.8m-4.4-4.4v8.8M298.1 396.5h8.8m-4.4-4.4v8.8M282.1 396.5h8.8m-4.4-4.4v8.8M267.1 397.5h8.8m-4.4-4.4v8.8M292.1 397.5h8.8m-4.4-4.4v8.8M296.1 397.5h8.8m-4.4-4.4v8.8M319.1 398.5h8.8m-4.4-4.4v8.8M296.1 398.5h8.8m-4.4-4.4v8.8M286.1 398.5h8.8m-4.4-4.4v8.8M319.1 398.5h8.8m-4.4-4.4v8.8M292.1 398.5h8.8m-4.4-4.4v8.8M300.1 399.5h8.8m-4.4-4.4v8.8M309.1 399.5h8.8m-4.4-4.4v8.8M270.1 400.5h8.8m-4.4-4.4v8.8M308.1 400.5h8.8m-4.4-4.4v8.8M294.1 400.5h8.8m-4.4-4.4v8.8M290.1 401.5h8.8m-4.4-4.4v8.8M316.1 401.5h8.8m-4.4-4.4v8.8M308.1 401.5h8.8m-4.4-4.4v8.8M305.1 401.5h8.8m-4.4-4.4v8.8M287.1 402.5h8.8m-4.4-4.4v8.8M307.1 402.5h8.8m-4.4-4.4v8.8M289.1 402.5h8.8m-4.4-4.4v8.8M294.1 402.5h8.8m-4.4-4.4v8.8M293.1 402.5h8.8m-4.4-4.4v8.8M301.1 402.5h8.8m-4.4-4.4v8.8M289.1 403.5h8.8m-4.4-4.4v8.8M303.1 403.5h8.8m-4.4-4.4v8.8M298.1 403.5h8.8m-4.4-4.4v8.8M312.1 403.5h8.8m-4.4-4.4v8.8M320.1 404.5h8.8m-4.4-4.4v8.8M284.1 404.5h8.8m-4.4-4.4v8.8M305.1 404.5h8.8m-4.4-4.4v8.8M277.1 404.5h8.8m-4.4-4.4v8.8M311.1 404.5h8.8m-4.4-4.4v8.8M312.1 405.5h8.8m-4.4-4.4v8.8M290.1 405.5h8.8m-4.4-4.4v8.8M282.1 405.5h8.8m-4.4-4.4v8.8M294.1 405.5h8.8m-4.4-4.4v8.8M304.1 405.5h8.8m-4.4-4.4v8.8M298.1 406.5h8.8m-4.4-4.4v8.8M309.1 406.5h8.8m-4.4-4.4v8.8M300.1 406.5h8.8m-4.4-4.4v8.8M300.1 406.5h8.8m-4.4-4.4v8.8M310.1 406.5h8.8m-4.4-4.4v8.8M311.1 407.5h8.8m-4.4-4.4v8.8M289.1 407.5h8.8m-4.4-4.4v8.8M306.1 407.5h8.8m-4.4-4.4v8.8M312.1 408.5h8.8m-4.4-4.4v8.8M313.1 408.5h8.8m-4.4-4.4v8.8M286.1 408.5h8.8m-4.4-4.4v8.8M279.1 408.5h8.8m-4.4-4.4v8.8M321.1 409.5h8.8m-4.4-4.4v8.8M288.1 409.5h8.8m-4.4-4.4v8.8M305.1 409.5h8.8m-4.4-4.4v8.8M308.1 409.5h8.8m-4.4-4.4v8.8M305.1 410.5h8.8m-4.4-4.4v8.8M298.1 410.5h8.8m-4.4-4.4v8.8M306.1 410.5h8.8m-4.4-4.4v8.8M279.1 410.5h8.8m-4.4-4.4v8.8M309.1 411.5h8.8m-4.4-4.4v8.8M275.1 411.5h8.8m-4.4-4.4v8.8M303.1 411.5h8.8m-4.4-4.4v8.8M311.1 411.5h8.8m-4.4-4.4v8.8M271.1 412.5h8.8m-4.4-4.4v8.8M289.1 412.5h8.8m-4.4-4.4v8.8M312.1 412.5h8.8m-4.4-4.4v8.8M315.1 412.5h8.8m-4.4-4.4v8.8M302.1 412.5h8.8m-4.4-4.4v8.8M259.1 413.5h8.8m-4.4-4.4v8.8M315.1 413.5h8.8m-4.4-4.4v8.8M282.1 413.5h8.8m-4.4-4.4v8.8M283.1 413.5h8.8m-4.4-4.4v8.8M291.1 414.5h8.8m-4.4-4.4v8.8M299.1 414.5h8.8m-4.4-4.4v8.8M296.1 414.5h8.8m-4.4-4.4v8.8M288.1 414.5h8.8m-4.4-4.4v8.8M290.1 415.5h8.8m-4.4-4.4v8.8M303.1 415.5h8.8m-4.4-4.4v8.8M303.1 415.5h8.8m-4.4-4.4v8.8M323.1 415.5h8.8m-4.4-4.4v8.8M266.1 416.5h8.8m-4.4-4.4v8.8M271.1 416.5h8.8m-4.4-4.4v8.8M343.1 416.5h8.8m-4.4-4.4v8.8M314.1 416.5h8.8m-4.4-4.4v8.8M318.1 416.5h8.8m-4.4-4.4v8.8M300.1 416.5h8.8m-4.4-4.4v8.8M314.1 417.5h8.8m-4.4-4.4v8.8M271.1 417.5h8.8m-4.4-4.4v8.8M302.1 417.5h8.8m-4.4-4.4v8.8M285.1 417.5h8.8m-4.4-4.4v8.8M293.1 417.5h8.8m-4.4-4.4v8.8M288.1 418.5h8.8m-4.4-4.4v8.8M318.1 418.5h8.8m-4.4-4.4v8.8M273.1 418.5h8.8m-4.4-4.4v8.8M284.1 418.5h8.8m-4.4-4.4v8.8M260.1 419.5h8.8m-4.4-4.4v8.8M254.1 419.5h8.8m-4.4-4.4v8.8M295.1 419.5h8.8m-4.4-4.4v8.8M299.1 419.5h8.8m-4.4-4.4v8.8M292.1 419.5h8.8m-4.4-4.4v8.8M304.1 420.5h8.8m-4.4-4.4v8.8M296.1 420.5h8.8m-4.4-4.4v8.8M297.1 420.5h8.8m-4.4-4.4v8.8M266.1 420.5h8.8m-4.4-4.4v8.8M261.1 421.5h8.8m-4.4-4.4v8.8M279.1 421.5h8.8m-4.4-4.4v8.8M309.1 421.5h8.8m-4.4-4.4v8.8M283.1 421.5h8.8m-4.4-4.4v8.8M320.1 422.5h8.8m-4.4-4.4v8.8M283.1 422.5h8.8m-4.4-4.4v8.8M297.1 422.5h8.8m-4.4-4.4v8.8M289.1 422.5h8.8m-4.4-4.4v8.8M293.1 422.5h8.8m-4.4-4.4v8.8M289.1 423.5h8.8m-4.4-4.4v8.8M333.1 423.5h8.8m-4.4-4.4v8.8M312.1 423.5h8.8m-4.4-4.4v8.8M299.1 423.5h8.8m-4.4-4.4v8.8M268.1 424.5h8.8m-4.4-4.4v8.8M294.1 424.5h8.8m-4.4-4.4v8.8M292.1 424.5h8.8m-4.4-4.4v8.8M288.1 424.5h8.8m-4.4-4.4v8.8M319.1 425.5h8.8m-4.4-4.4v8.8M307.1 425.5h8.8m-4.4-4.4v8.8M291.1 425.5h8.8m-4.4-4.4v8.8M297.1 425.5h8.8m-4.4-4.4v8.8M284.1 426.5h8.8m-4.4-4.4v8.8M318.1 426.5h8.8m-4.4-4.4v8.8M317.1 426.5h8.8m-4.4-4.4v8.8M277.1 426.5h8.8m-4.4-4.4v8.8M294.1 426.5h8.8m-4.4-4.4v8.8M293.1 426.5h8.8m-4.4-4.4v8.8M294.1 427.5h8.8m-4.4-4.4v8.8M314.1 427.5h8.8m-4.4-4.4v8.8M267.1 427.5h8.8m-4.4-4.4v8.8M287.1 428.5h8.8m-4.4-4.4v8.8M281.1 428.5h8.8m-4.4-4.4v8.8M316.1 428.5h8.8m-4.4-4.4v8.8M315.1 428.5h8.8m-4.4-4.4v8.8M291.1 428.5h8.8m-4.4-4.4v8.8M274.1 429.5h8.8m-4.4-4.4v8.8M263.1 429.5h8.8m-4.4-4.4v8.8M284.1 429.5h8.8m-4.4-4.4v8.8M320.1 429.5h8.8m-4.4-4.4v8.8M289.1 429.5h8.8m-4.4-4.4v8.8M311.1 430.5h8.8m-4.4-4.4v8.8M255.1 430.5h8.8m-4.4-4.4v8.8M300.1 430.5h8.8m-4.4-4.4v8.8M317.1 430.5h8.8m-4.4-4.4v8.8M280.1 430.5h8.8m-4.4-4.4v8.8M300.1 430.5h8.8m-4.4-4.4v8.8M312.1 431.5h8.8m-4.4-4.4v8.8M317.1 431.5h8.8m-4.4-4.4v8.8M275.1 431.5h8.8m-4.4-4.4v8.8M301.1 431.5h8.8m-4.4-4.4v8.8M264.1 432.5h8.8m-4.4-4.4v8.8M269.1 432.5h8.8m-4.4-4.4v8.8M308.1 432.5h8.8m-4.4-4.4v8.8M282.1 432.5h8.8m-4.4-4.4v8.8M280.1 432.5h8.8m-4.4-4.4v8.8M323.1 432.5h8.8m-4.4-4.4v8.8M304.1 432.5h8.8m-4.4-4.4v8.8M265.1 433.5h8.8m-4.4-4.4v8.8M278.1 433.5h8.8m-4.4-4.4v8.8M283.1 433.5h8.8m-4.4-4.4v8.8M278.1 433.5h8.8m-4.4-4.4v8.8M275.1 433.5h8.8m-4.4-4.4v8.8M275.1 434.5h8.8m-4.4-4.4v8.8M306.1 434.5h8.8m-4.4-4.4v8.8M268.1 434.5h8.8m-4.4-4.4v8.8M276.1 434.5h8.8m-4.4-4.4v8.8M269.1 435.5h8.8m-4.4-4.4v8.8M313.1 435.5h8.8m-4.4-4.4v8.8M315.1 435.5h8.8m-4.4-4.4v8.8M297.1 435.5h8.8m-4.4-4.4v8.8M271.1 435.5h8.8m-4.4-4.4v8.8M314.1 435.5h8.8m-4.4-4.4v8.8M325.1 436.5h8.8m-4.4-4.4v8.8M294.1 436.5h8.8m-4.4-4.4v8.8M311.1 436.5h8.8m-4.4-4.4v8.8M309.1 437.5h8.8m-4.4-4.4v8.8M285.1 437.5h8.8m-4.4-4.4v8.8M315.1 437.5h8.8m-4.4-4.4v8.8M287.1 437.5h8.8m-4.4-4.4v8.8M260.1 438.5h8.8m-4.4-4.4v8.8M291.1 438.5h8.8m-4.4-4.4v8.8M278.1 438.5h8.8m-4.4-4.4v8.8M306.1 438.5h8.8m-4.4-4.4v8.8M292.1 438.5h8.8m-4.4-4.4v8.8M319.1 438.5h8.8m-4.4-4.4v8.8M286.1 439.5h8.8m-4.4-4.4v8.8M314.1 439.5h8.8m-4.4-4.4v8.8M306.1 439.5h8.8m-4.4-4.4v8.8M295.1 439.5h8.8m-4.4-4.4v8.8M279.1 439.5h8.8m-4.4-4.4v8.8M259.1 440.5h8.8m-4.4-4.4v8.8M267.1 440.5h8.8m-4.4-4.4v8.8M321.1 440.5h8.8m-4.4-4.4v8.8M321.1 440.5h8.8m-4.4-4.4v8.8M303.1 440.5h8.8m-4.4-4.4v8.8M316.1 440.5h8.8m-4.4-4.4v8.8M265.1 441.5h8.8m-4.4-4.4v8.8M299.1 441.5h8.8m-4.4-4.4v8.8M312.1 441.5h8.8m-4.4-4.4v8.8M311.1 441.5h8.8m-4.4-4.4v8.8M294.1 441.5h8.8m-4.4-4.4v8.8M300.1 441.5h8.8m-4.4-4.4v8.8M275.1 442.5h8.8m-4.4-4.4v8.8M316.1 442.5h8.8m-4.4-4.4v8.8M314.1 442.5h8.8m-4.4-4.4v8.8M301.1 442.5h8.8m-4.4-4.4v8.8M303.1 442.5h8.8m-4.4-4.4v8.8M280.1 442.5h8.8m-4.4-4.4v8.8M307.1 443.5h8.8m-4.4-4.4v8.8M272.1 443.5h8.8m-4.4-4.4v8.8M276.1 443.5h8.8m-4.4-4.4v8.8M300.1 443.5h8.8m-4.4-4.4v8.8M291.1 443.5h8.8m-4.4-4.4v8.8M280.1 443.5h8.8m-4.4-4.4v8.8M313.1 443.5h8.8m-4.4-4.4v8.8M274.1 444.5h8.8m-4.4-4.4v8.8M321.1 444.5h8.8m-4.4-4.4v8.8M298.1 444.5h8.8m-4.4-4.4v8.8M270.1 444.5h8.8m-4.4-4.4v8.8M307.1 444.5h8.8m-4.4-4.4v8.8M317.1 445.5h8.8m-4.4-4.4v8.8M307.1 445.5h8.8m-4.4-4.4v8.8M293.1 445.5h8.8m-4.4-4.4v8.8M283.1 445.5h8.8m-4.4-4.4v8.8M308.1 445.5h8.8m-4.4-4.4v8.8M282.1 446.5h8.8m-4.4-4.4v8.8M280.1 446.5h8.8m-4.4-4.4v8.8M288.1 446.5h8.8m-4.4-4.4v8.8M301.1 446.5h8.8m-4.4-4.4v8.8M315.1 446.5h8.8m-4.4-4.4v8.8M247.1 335.5h8.8m-4.4-4.4v8.8M258.1 386.5h8.8m-4.4-4.4v8.8M243.1 324.5h8.8m-4.4-4.4v8.8M263.1 366.5h8.8m-4.4-4.4v8.8M272.1 380.5h8.8m-4.4-4.4v8.8M246.1 326.5h8.8m-4.4-4.4v8.8M254.1 376.5h8.8m-4.4-4.4v8.8M256.1 399.5h8.8m-4.4-4.4v8.8M273.1 325.5h8.8m-4.4-4.4v8.8M256.1 382.5h8.8m-4.4-4.4v8.8M282.1 277.5h8.8m-4.4-4.4v8.8M280.1 295.5h8.8m-4.4-4.4v8.8M307.1 442.5h8.8m-4.4-4.4v8.8M306.1 442.5h8.8m-4.4-4.4v8.8M282.1 443.5h8.8m-4.4-4.4v8.8M310.1 443.5h8.8m-4.4-4.4v8.8M271.1 442.5h8.8m-4.4-4.4v8.8M289.1 440.5h8.8m-4.4-4.4v8.8M248.1 444.5h8.8m-4.4-4.4v8.8M329.1 439.5h8.8m-4.4-4.4v8.8M262.1 443.5h8.8m-4.4-4.4v8.8M325.1 443.5h8.8m-4.4-4.4v8.8M319.1 443.5h8.8m-4.4-4.4v8.8M307.1 442.5h8.8m-4.4-4.4v8.8M271.1 443.5h8.8m-4.4-4.4v8.8M327.1 443.5h8.8m-4.4-4.4v8.8M276.1 447.5h8.8m-4.4-4.4v8.8M275.1 443.5h8.8m-4.4-4.4v8.8M253.1 447.5h8.8m-4.4-4.4v8.8M334.1 443.5h8.8m-4.4-4.4v8.8M330.1 445.5h8.8m-4.4-4.4v8.8M325.1 442.5h8.8m-4.4-4.4v8.8M335.1 443.5h8.8m-4.4-4.4v8.8M277.1 445.5h8.8m-4.4-4.4v8.8M325.1 442.5h8.8m-4.4-4.4v8.8M301.1 443.5h8.8m-4.4-4.4v8.8M254.1 447.5h8.8m-4.4-4.4v8.8M249.1 443.5h8.8m-4.4-4.4v8.8M256.1 442.5h8.8m-4.4-4.4v8.8M272.1 445.5h8.8m-4.4-4.4v8.8M271.1 442.5h8.8m-4.4-4.4v8.8M269.1 442.5h8.8m-4.4-4.4v8.8M297.1 443.5h8.8m-4.4-4.4v8.8M261.1 446.5h8.8m-4.4-4.4v8.8M279.1 445.5h8.8m-4.4-4.4v8.8M332.1 442.5h8.8m-4.4-4.4v8.8M268.1 442.5h8.8m-4.4-4.4v8.8M279.1 444.5h8.8m-4.4-4.4v8.8M323.1 443.5h8.8m-4.4-4.4v8.8M295.1 446.5h8.8m-4.4-4.4v8.8M306.1 445.5h8.8m-4.4-4.4v8.8M322.1 443.5h8.8m-4.4-4.4v8.8M277.1 444.5h8.8m-4.4-4.4v8.8M252.1 444.5h8.8m-4.4-4.4v8.8M308.1 448.5h8.8m-4.4-4.4v8.8M305.1 446.5h8.8m-4.4-4.4v8.8M293.1 444.5h8.8m-4.4-4.4v8.8M328.1 442.5h8.8m-4.4-4.4v8.8M247.1 444.5h8.8m-4.4-4.4v8.8M269.1 442.5h8.8m-4.4-4.4v8.8M285.1 445.5h8.8m-4.4-4.4v8.8M280.1 443.5h8.8m-4.4-4.4v8.8M296.1 447.5h8.8m-4.4-4.4v8.8M279.1 443.5h8.8m-4.4-4.4v8.8M281.1 442.5h8.8m-4.4-4.4v8.8M308.1 444.5h8.8m-4.4-4.4v8.8M297.1 443.5h8.8m-4.4-4.4v8.8M293.1 440.5h8.8m-4.4-4.4v8.8M330.1 445.5h8.8m-4.4-4.4v8.8M273.1 444.5h8.8m-4.4-4.4v8.8M302.1 442.5h8.8m-4.4-4.4v8.8M303.1 442.5h8.8m-4.4-4.4v8.8M271.1 444.5h8.8m-4.4-4.4v8.8M298.1 447.5h8.8m-4.4-4.4v8.8M283.1 443.5h8.8m-4.4-4.4v8.8M325.1 442.5h8.8m-4.4-4.4v8.8M278.1 448.5h8.8m-4.4-4.4v8.8M315.1 448.5h8.8m-4.4-4.4v8.8M331.1 446.5h8.8m-4.4-4.4v8.8M287.1 442.5h8.8m-4.4-4.4v8.8M325.1 449.5h8.8m-4.4-4.4v8.8M255.1 443.5h8.8m-4.4-4.4v8.8M263.1 444.5h8.8m-4.4-4.4v8.8M262.1 443.5h8.8m-4.4-4.4v8.8M254.1 444.5h8.8m-4.4-4.4v8.8M306.1 443.5h8.8m-4.4-4.4v8.8M331.1 438.5h8.8m-4.4-4.4v8.8M283.1 449.5h8.8m-4.4-4.4v8.8M284.1 445.5h8.8m-4.4-4.4v8.8M277.1 441.5h8.8m-4.4-4.4v8.8M262.1 446.5h8.8m-4.4-4.4v8.8M277.1 444.5h8.8m-4.4-4.4v8.8M284.1 444.5h8.8m-4.4-4.4v8.8M247.1 447.5h8.8m-4.4-4.4v8.8M315.1 445.5h8.8m-4.4-4.4v8.8M343.1 453.5h8.8m-4.4-4.4v8.8M320.1 449.5h8.8m-4.4-4.4v8.8M325.1 448.5h8.8m-4.4-4.4v8.8M339.1 453.5h8.8m-4.4-4.4v8.8M321.1 450.5h8.8m-4.4-4.4v8.8M335.1 453.5h8.8m-4.4-4.4v8.8M326.1 452.5h8.8m-4.4-4.4v8.8M327.1 447.5h8.8m-4.4-4.4v8.8M322.1 452.5h8.8m-4.4-4.4v8.8M320.1 446.5h8.8m-4.4-4.4v8.8M323.1 447.5h8.8m-4.4-4.4v8.8M335.1 451.5h8.8m-4.4-4.4v8.8M318.1 455.5h8.8m-4.4-4.4v8.8M314.1 456.5h8.8m-4.4-4.4v8.8M313.1 449.5h8.8m-4.4-4.4v8.8M333.1 446.5h8.8m-4.4-4.4v8.8M332.1 447.5h8.8m-4.4-4.4v8.8M327.1 454.5h8.8m-4.4-4.4v8.8M321.1 451.5h8.8m-4.4-4.4v8.8M318.1 449.5h8.8m-4.4-4.4v8.8M342.1 457.5h8.8m-4.4-4.4v8.8M324.1 449.5h8.8m-4.4-4.4v8.8M314.1 448.5h8.8m-4.4-4.4v8.8M335.1 455.5h8.8m-4.4-4.4v8.8M323.1 452.5h8.8m-4.4-4.4v8.8M318.1 448.5h8.8m-4.4-4.4v8.8M311.1 446.5h8.8m-4.4-4.4v8.8M336.1 448.5h8.8m-4.4-4.4v8.8M322.1 448.5h8.8m-4.4-4.4v8.8M321.1 452.5h8.8m-4.4-4.4v8.8M326.1 446.5h8.8m-4.4-4.4v8.8M328.1 448.5h8.8m-4.4-4.4v8.8M320.1 448.5h8.8m-4.4-4.4v8.8M315.1 447.5h8.8m-4.4-4.4v8.8M328.1 446.5h8.8m-4.4-4.4v8.8M337.1 448.5h8.8m-4.4-4.4v8.8M339.1 455.5h8.8m-4.4-4.4v8.8M331.1 446.5h8.8m-4.4-4.4v8.8M343.1 451.5h8.8m-4.4-4.4v8.8M344.1 462.5h8.8m-4.4-4.4v8.8M334.1 470.5h8.8m-4.4-4.4v8.8M320.1 448.5h8.8m-4.4-4.4v8.8M317.1 446.5h8.8m-4.4-4.4v8.8M338.1 447.5h8.8m-4.4-4.4v8.8M350.1 463.5h8.8m-4.4-4.4v8.8M313.1 448.5h8.8m-4.4-4.4v8.8M350.1 448.5h8.8m-4.4-4.4v8.8M320.1 454.5h8.8m-4.4-4.4v8.8M320.1 451.5h8.8m-4.4-4.4v8.8M347.1 451.5h8.8m-4.4-4.4v8.8M358.1 457.5h8.8m-4.4-4.4v8.8M310.1 447.5h8.8m-4.4-4.4v8.8M356.1 436.5h8.8m-4.4-4.4v8.8M336.1 449.5h8.8m-4.4-4.4v8.8M334.1 447.5h8.8m-4.4-4.4v8.8M349.1 453.5h8.8m-4.4-4.4v8.8M341.1 449.5h8.8m-4.4-4.4v8.8M354.1 444.5h8.8m-4.4-4.4v8.8M358.1 442.5h8.8m-4.4-4.4v8.8M332.1 449.5h8.8m-4.4-4.4v8.8M347.1 404.5h8.8m-4.4-4.4v8.8M337.1 426.5h8.8m-4.4-4.4v8.8M185.1 294.5h8.8m-4.4-4.4v8.8M216.1 305.5h8.8m-4.4-4.4v8.8M234.1 253.5h8.8m-4.4-4.4v8.8M253.1 264.5h8.8m-4.4-4.4v8.8M268.1 272.5h8.8m-4.4-4.4v8.8M253.1 284.5h8.8m-4.4-4.4v8.8M246.1 296.5h8.8m-4.4-4.4v8.8M259.1 306.5h8.8m-4.4-4.4v8.8M231.1 316.5h8.8m-4.4-4.4v8.8M263.1 317.5h8.8m-4.4-4.4v8.8M319.1 273.5h8.8m-4.4-4.4v8.8M288.1 253.5h8.8m-4.4-4.4v8.8M293.1 268.5h8.8m-4.4-4.4v8.8M282.1 275.5h8.8m-4.4-4.4v8.8M293.1 278.5h8.8m-4.4-4.4v8.8M287.1 282.5h8.8m-4.4-4.4v8.8M313.1 294.5h8.8m-4.4-4.4v8.8M313.1 310.5h8.8m-4.4-4.4v8.8M328.1 326.5h8.8m-4.4-4.4v8.8M326.1 350.5h8.8m-4.4-4.4v8.8M313.1 355.5h8.8m-4.4-4.4v8.8M309.1 322.5h8.8m-4.4-4.4v8.8M327.1 388.5h8.8m-4.4-4.4v8.8M209.1 421.5h8.8m-4.4-4.4v8.8M251.1 452.5h8.8m-4.4-4.4v8.8M246.1 325.5h8.8m-4.4-4.4v8.8M353.1 410.5h8.8m-4.4-4.4v8.8M293.1 479.5h8.8m-4.4-4.4v8.8M319.1 474.5h8.8m-4.4-4.4v8.8M344.1 483.5h8.8m-4.4-4.4v8.8M346.1 469.5h8.8m-4.4-4.4v8.8M366.1 455.5h8.8m-4.4-4.4v8.8M303.1 64.5h8.8m-4.4-4.4v8.8M268.1 59.5h8.8m-4.4-4.4v8.8M317.1 72.5h8.8m-4.4-4.4v8.8M206.1 266.5h8.8m-4.4-4.4v8.8M205.1 279.5h8.8m-4.4-4.4v8.8M220.1 277.5h8.8m-4.4-4.4v8.8M231.1 292.5h8.8m-4.4-4.4v8.8M194.1 325.5h8.8m-4.4-4.4v8.8M225.1 358.5h8.8m-4.4-4.4v8.8M229.1 387.5h8.8m-4.4-4.4v8.8M231.1 401.5h8.8m-4.4-4.4v8.8M237.1 407.5h8.8m-4.4-4.4v8.8M237.1 436.5h8.8m-4.4-4.4v8.8M239.1 447.5h8.8m-4.4-4.4v8.8"/>
<path d="M202.1 435.5h8.8m-4.4-4.4v8.8M199.1 426.5h8.8m-4.4-4.4v8.8M201.1 379.5h8.8m-4.4-4.4v8.8M201.1 359.5h8.8m-4.4-4.4v8.8M201.1 406.5h8.8m-4.4-4.4v8.8M199.1 384.5h8.8m-4.4-4.4v8.8M199.1 436.5h8.8m-4.4-4.4v8.8M200.1 365.5h8.8m-4.4-4.4v8.8M199.1 407.5h8.8m-4.4-4.4v8.8M203.1 351.5h8.8m-4.4-4.4v8.8M201.1 380.5h8.8m-4.4-4.4v8.8M202.1 361.5h8.8m-4.4-4.4v8.8M199.1 432.5h8.8m-4.4-4.4v8.8M198.1 438.5h8.8m-4.4-4.4v8.8M200.1 429.5h8.8m-4.4-4.4v8.8M198.1 437.5h8.8m-4.4-4.4v8.8M200.1 409.5h8.8m-4.4-4.4v8.8M202.1 358.5h8.8m-4.4-4.4v8.8M202.1 344.5h8.8m-4.4-4.4v8.8M203.1 353.5h8.8m-4.4-4.4v8.8M201.1 361.5h8.8m-4.4-4.4v8.8M201.1 370.5h8.8m-4.4-4.4v8.8M201.1 379.5h8.8m-4.4-4.4v8.8M201.1 388.5h8.8m-4.4-4.4v8.8M199.1 397.5h8.8m-4.4-4.4v8.8M201.1 405.5h8.8m-4.4-4.4v8.8M200.1 414.5h8.8m-4.4-4.4v8.8M198.1 423.5h8.8m-4.4-4.4v8.8M198.1 432.5h8.8m-4.4-4.4v8.8M215.1 330.5h8.8m-4.4-4.4v8.8M222.1 342.5h8.8m-4.4-4.4v8.8M228.1 327.5h8.8m-4.4-4.4v8.8M219.1 338.5h8.8m-4.4-4.4v8.8M222.1 327.5h8.8m-4.4-4.4v8.8M216.1 364.5h8.8m-4.4-4.4v8.8M226.1 329.5h8.8m-4.4-4.4v8.8M219.1 356.5h8.8m-4.4-4.4v8.8M243.1 391.5h8.8m-4.4-4.4v8.8M224.1 375.5h8.8m-4.4-4.4v8.8M240.1 372.5h8.8m-4.4-4.4v8.8M234.1 367.5h8.8m-4.4-4.4v8.8M230.1 395.5h8.8m-4.4-4.4v8.8M225.1 382.5h8.8m-4.4-4.4v8.8M212.1 320.5h8.8m-4.4-4.4v8.8M287.1 296.5h8.8m-4.4-4.4v8.8M291.1 299.5h8.8m-4.4-4.4v8.8M287.1 300.5h8.8m-4.4-4.4v8.8M283.1 302.5h8.8m-4.4-4.4v8.8M284.1 303.5h8.8m-4.4-4.4v8.8M288.1 304.5h8.8m-4.4-4.4v8.8M296.1 305.5h8.8m-4.4-4.4v8.8M294.1 306.5h8.8m-4.4-4.4v8.8M295.1 309.5h8.8m-4.4-4.4v8.8M284.1 311.5h8.8m-4.4-4.4v8.8M300.1 312.5h8.8m-4.4-4.4v8.8M297.1 314.5h8.8m-4.4-4.4v8.8M280.1 316.5h8.8m-4.4-4.4v8.8M295.1 318.5h8.8m-4.4-4.4v8.8M279.1 319.5h8.8m-4.4-4.4v8.8M280.1 320.5h8.8m-4.4-4.4v8.8M300.1 322.5h8.8m-4.4-4.4v8.8M292.1 324.5h8.8m-4.4-4.4v8.8M285.1 325.5h8.8m-4.4-4.4v8.8M295.1 328.5h8.8m-4.4-4.4v8.8M283.1 330.5h8.8m-4.4-4.4v8.8M275.1 331.5h8.8m-4.4-4.4v8.8M305.1 332.5h8.8m-4.4-4.4v8.8M275.1 333.5h8.8m-4.4-4.4v8.8M296.1 334.5h8.8m-4.4-4.4v8.8M284.1 334.5h8.8m-4.4-4.4v8.8M294.1 335.5h8.8m-4.4-4.4v8.8M295.1 337.5h8.8m-4.4-4.4v8.8M297.1 337.5h8.8m-4.4-4.4v8.8M270.1 338.5h8.8m-4.4-4.4v8.8M302.1 339.5h8.8m-4.4-4.4v8.8M299.1 340.5h8.8m-4.4-4.4v8.8M275.1 341.5h8.8m-4.4-4.4v8.8M289.1 341.5h8.8m-4.4-4.4v8.8M283.1 342.5h8.8m-4.4-4.4v8.8M277.1 343.5h8.8m-4.4-4.4v8.8M290.1 344.5h8.8m-4.4-4.4v8.8M280.1 344.5h8.8m-4.4-4.4v8.8M298.1 346.5h8.8m-4.4-4.4v8.8M287.1 346.5h8.8m-4.4-4.4v8.8M275.1 347.5h8.8m-4.4-4.4v8.8M283.1 347.5h8.8m-4.4-4.4v8.8M304.1 348.5h8.8m-4.4-4.4v8.8M304.1 349.5h8.8m-4.4-4.4v8.8M300.1 349.5h8.8m-4.4-4.4v8.8M270.1 350.5h8.8m-4.4-4.4v8.8M289.1 350.5h8.8m-4.4-4.4v8.8M286.1 351.5h8.8m-4.4-4.4v8.8M284.1 352.5h8.8m-4.4-4.4v8.8M290.1 352.5h8.8m-4.4-4.4v8.8M274.1 353.5h8.8m-4.4-4.4v8.8M305.1 354.5h8.8m-4.4-4.4v8.8M283.1 355.5h8.8m-4.4-4.4v8.8M288.1 355.5h8.8m-4.4-4.4v8.8M270.1 356.5h8.8m-4.4-4.4v8.8M291.1 356.5h8.8m-4.4-4.4v8.8M298.1 357.5h8.8m-4.4-4.4v8.8M291.1 358.5h8.8m-4.4-4.4v8.8M296.1 358.5h8.8m-4.4-4.4v8.8M272.1 359.5h8.8m-4.4-4.4v8.8M287.1 359.5h8.8m-4.4-4.4v8.8M287.1 360.5h8.8m-4.4-4.4v8.8M269.1 361.5h8.8m-4.4-4.4v8.8M282.1 361.5h8.8m-4.4-4.4v8.8M287.1 362.5h8.8m-4.4-4.4v8.8M310.1 362.5h8.8m-4.4-4.4v8.8M296.1 363.5h8.8m-4.4-4.4v8.8M264.1 364.5h8.8m-4.4-4.4v8.8M299.1 364.5h8.8m-4.4-4.4v8.8M301.1 365.5h8.8m-4.4-4.4v8.8M274.1 366.5h8.8m-4.4-4.4v8.8M289.1 366.5h8.8m-4.4-4.4v8.8M285.1 366.5h8.8m-4.4-4.4v8.8M263.1 367.5h8.8m-4.4-4.4v8.8M294.1 367.5h8.8m-4.4-4.4v8.8M291.1 368.5h8.8m-4.4-4.4v8.8M299.1 368.5h8.8m-4.4-4.4v8.8M283.1 369.5h8.8m-4.4-4.4v8.8M286.1 369.5h8.8m-4.4-4.4v8.8M279.1 369.5h8.8m-4.4-4.4v8.8M275.1 370.5h8.8m-4.4-4.4v8.8M309.1 370.5h8.8m-4.4-4.4v8.8M292.1 370.5h8.8m-4.4-4.4v8.8M283.1 371.5h8.8m-4.4-4.4v8.8M271.1 372.5h8.8m-4.4-4.4v8.8M274.1 372.5h8.8m-4.4-4.4v8.8M291.1 372.5h8.8m-4.4-4.4v8.8M290.1 373.5h8.8m-4.4-4.4v8.8M295.1 373.5h8.8m-4.4-4.4v8.8M299.1 373.5h8.8m-4.4-4.4v8.8M284.1 374.5h8.8m-4.4-4.4v8.8M293.1 374.5h8.8m-4.4-4.4v8.8M288.1 374.5h8.8m-4.4-4.4v8.8M296.1 375.5h8.8m-4.4-4.4v8.8M290.1 375.5h8.8m-4.4-4.4v8.8M296.1 375.5h8.8m-4.4-4.4v8.8M299.1 376.5h8.8m-4.4-4.4v8.8M299.1 377.5h8.8m-4.4-4.4v8.8M280.1 377.5h8.8m-4.4-4.4v8.8M286.1 378.5h8.8m-4.4-4.4v8.8M306.1 378.5h8.8m-4.4-4.4v8.8M281.1 378.5h8.8m-4.4-4.4v8.8M295.1 378.5h8.8m-4.4-4.4v8.8M291.1 378.5h8.8m-4.4-4.4v8.8M295.1 379.5h8.8m-4.4-4.4v8.8M304.1 379.5h8.8m-4.4-4.4v8.8M293.1 379.5h8.8m-4.4-4.4v8.8M287.1 380.5h8.8m-4.4-4.4v8.8M298.1 380.5h8.8m-4.4-4.4v8.8M278.1 380.5h8.8m-4.4-4.4v8.8M298.1 380.5h8.8m-4.4-4.4v8.8M291.1 380.5h8.8m-4.4-4.4v8.8M283.1 381.5h8.8m-4.4-4.4v8.8M289.1 381.5h8.8m-4.4-4.4v8.8M291.1 382.5h8.8m-4.4-4.4v8.8M284.1 382.5h8.8m-4.4-4.4v8.8M293.1 383.5h8.8m-4.4-4.4v8.8M270.1 383.5h8.8m-4.4-4.4v8.8M273.1 383.5h8.8m-4.4-4.4v8.8M297.1 383.5h8.8m-4.4-4.4v8.8M299.1 384.5h8.8m-4.4-4.4v8.8M269.1 384.5h8.8m-4.4-4.4v8.8M291.1 384.5h8.8m-4.4-4.4v8.8M277.1 385.5h8.8m-4.4-4.4v8.8M308.1 385.5h8.8m-4.4-4.4v8.8M299.1 385.5h8.8m-4.4-4.4v8.8M293.1 385.5h8.8m-4.4-4.4v8.8M313.1 386.5h8.8m-4.4-4.4v8.8M307.1 386.5h8.8m-4.4-4.4v8.8M287.1 386.5h8.8m-4.4-4.4v8.8M277.1 387.5h8.8m-4.4-4.4v8.8M306.1 387.5h8.8m-4.4-4.4v8.8M293.1 387.5h8.8m-4.4-4.4v8.8M293.1 387.5h8.8m-4.4-4.4v8.8M299.1 388.5h8.8m-4.4-4.4v8.8M299.1 388.5h8.8m-4.4-4.4v8.8M302.1 389.5h8.8m-4.4-4.4v8.8M287.1 389.5h8.8m-4.4-4.4v8.8M278.1 389.5h8.8m-4.4-4.4v8.8M314.1 390.5h8.8m-4.4-4.4v8.8M297.1 390.5h8.8m-4.4-4.4v8.8M298.1 390.5h8.8m-4.4-4.4v8.8M292.1 390.5h8.8m-4.4-4.4v8.8M282.1 391.5h8.8m-4.4-4.4v8.8M317.1 392.5h8.8m-4.4-4.4v8.8M282.1 392.5h8.8m-4.4-4.4v8.8M301.1 392.5h8.8m-4.4-4.4v8.8M301.1 392.5h8.8m-4.4-4.4v8.8M313.1 393.5h8.8m-4.4-4.4v8.8M275.1 393.5h8.8m-4.4-4.4v8.8M291.1 393.5h8.8m-4.4-4.4v8.8M287.1 394.5h8.8m-4.4-4.4v8.8M291.1 394.5h8.8m-4.4-4.4v8.8M304.1 395.5h8.8m-4.4-4.4v8.8M285.1 395.5h8.8m-4.4-4.4v8.8M314.1 396.5h8.8m-4.4-4.4v8.8M272.1 396.5h8.8m-4.4-4.4v8.8M302.1 396.5h8.8m-4.4-4.4v8.8M295.1 396.5h8.8m-4.4-4.4v8.8M265.1 397.5h8.8m-4.4-4.4v8.8M311.1 397.5h8.8m-4.4-4.4v8.8M294.1 397.5h8.8m-4.4-4.4v8.8M315.1 398.5h8.8m-4.4-4.4v8.8M277.1 398.5h8.8m-4.4-4.4v8.8M305.1 398.5h8.8m-4.4-4.4v8.8M293.1 398.5h8.8m-4.4-4.4v8.8M313.1 399.5h8.8m-4.4-4.4v8.8M295.1 399.5h8.8m-4.4-4.4v8.8M289.1 400.5h8.8m-4.4-4.4v8.8M310.1 400.5h8.8m-4.4-4.4v8.8M326.1 400.5h8.8m-4.4-4.4v8.8M279.1 400.5h8.8m-4.4-4.4v8.8M280.1 401.5h8.8m-4.4-4.4v8.8M310.1 401.5h8.8m-4.4-4.4v8.8M297.1 401.5h8.8m-4.4-4.4v8.8M285.1 401.5h8.8m-4.4-4.4v8.8M275.1 402.5h8.8m-4.4-4.4v8.8M268.1 402.5h8.8m-4.4-4.4v8.8M286.1 402.5h8.8m-4.4-4.4v8.8M306.1 402.5h8.8m-4.4-4.4v8.8M313.1 402.5h8.8m-4.4-4.4v8.8M294.1 402.5h8.8m-4.4-4.4v8.8M261.1 403.5h8.8m-4.4-4.4v8.8M301.1 403.5h8.8m-4.4-4.4v8.8M294.1 403.5h8.8m-4.4-4.4v8.8M282.1 403.5h8.8m-4.4-4.4v8.8M293.1 404.5h8.8m-4.4-4.4v8.8M304.1 404.5h8.8m-4.4-4.4v8.8M297.1 404.5h8.8m-4.4-4.4v8.8M277.1 404.5h8.8m-4.4-4.4v8.8M291.1 404.5h8.8m-4.4-4.4v8.8M308.1 405.5h8.8m-4.4-4.4v8.8M305.1 405.5h8.8m-4.4-4.4v8.8M312.1 405.5h8.8m-4.4-4.4v8.8M296.1 405.5h8.8m-4.4-4.4v8.8M279.1 406.5h8.8m-4.4-4.4v8.8M278.1 406.5h8.8m-4.4-4.4v8.8M275.1 406.5h8.8m-4.4-4.4v8.8M280.1 406.5h8.8m-4.4-4.4v8.8M291.1 406.5h8.8m-4.4-4.4v8.8M291.1 406.5h8.8m-4.4-4.4v8.8M306.1 407.5h8.8m-4.4-4.4v8.8M304.1 407.5h8.8m-4.4-4.4v8.8M308.1 407.5h8.8m-4.4-4.4v8.8M319.1 408.5h8.8m-4.4-4.4v8.8M301.1 408.5h8.8m-4.4-4.4v8.8M317.1 408.5h8.8m-4.4-4.4v8.8M279.1 408.5h8.8m-4.4-4.4v8.8M287.1 409.5h8.8m-4.4-4.4v8.8M313.1 409.5h8.8m-4.4-4.4v8.8M309.1 409.5h8.8m-4.4-4.4v8.8M304.1 409.5h8.8m-4.4-4.4v8.8M312.1 410.5h8.8m-4.4-4.4v8.8M296.1 410.5h8.8m-4.4-4.4v8.8M318.1 410.5h8.8m-4.4-4.4v8.8M322.1 411.5h8.8m-4.4-4.4v8.8M313.1 411.5h8.8m-4.4-4.4v8.8M296.1 411.5h8.8m-4.4-4.4v8.8M278.1 411.5h8.8m-4.4-4.4v8.8M291.1 411.5h8.8m-4.4-4.4v8.8M266.1 412.5h8.8m-4.4-4.4v8.8M283.1 412.5h8.8m-4.4-4.4v8.8M305.1 412.5h8.8m-4.4-4.4v8.8M283.1 412.5h8.8m-4.4-4.4v8.8M291.1 412.5h8.8m-4.4-4.4v8.8M308.1 413.5h8.8m-4.4-4.4v8.8M300.1 413.5h8.8m-4.4-4.4v8.8M289.1 413.5h8.8m-4.4-4.4v8.8M301.1 413.5h8.8m-4.4-4.4v8.8M285.1 414.5h8.8m-4.4-4.4v8.8M288.1 414.5h8.8m-4.4-4.4v8.8M303.1 414.5h8.8m-4.4-4.4v8.8M286.1 414.5h8.8m-4.4-4.4v8.8M268.1 415.5h8.8m-4.4-4.4v8.8M288.1 415.5h8.8m-4.4-4.4v8.8M293.1 415.5h8.8m-4.4-4.4v8.8M308.1 415.5h8.8m-4.4-4.4v8.8M312.1 416.5h8.8m-4.4-4.4v8.8M277.1 416.5h8.8m-4.4-4.4v8.8M308.1 416.5h8.8m-4.4-4.4v8.8M290.1 416.5h8.8m-4.4-4.4v8.8M305.1 416.5h8.8m-4.4-4.4v8.8M296.1 416.5h8.8m-4.4-4.4v8.8M272.1 417.5h8.8m-4.4-4.4v8.8M313.1 417.5h8.8m-4.4-4.4v8.8M282.1 417.5h8.8m-4.4-4.4v8.8M298.1 417.5h8.8m-4.4-4.4v8.8M273.1 417.5h8.8m-4.4-4.4v8.8M289.1 418.5h8.8m-4.4-4.4v8.8M300.1 418.5h8.8m-4.4-4.4v8.8M283.1 418.5h8.8m-4.4-4.4v8.8M291.1 418.5h8.8m-4.4-4.4v8.8M295.1 419.5h8.8m-4.4-4.4v8.8M295.1 419.5h8.8m-4.4-4.4v8.8M301.1 419.5h8.8m-4.4-4.4v8.8M295.1 419.5h8.8m-4.4-4.4v8.8M312.1 419.5h8.8m-4.4-4.4v8.8M254.1 420.5h8.8m-4.4-4.4v8.8M284.1 420.5h8.8m-4.4-4.4v8.8M306.1 420.5h8.8m-4.4-4.4v8.8M274.1 421.5h8.8m-4.4-4.4v8.8M298.1 421.5h8.8m-4.4-4.4v8.8M288.1 421.5h8.8m-4.4-4.4v8.8M308.1 421.5h8.8m-4.4-4.4v8.8M288.1 421.5h8.8m-4.4-4.4v8.8M295.1 422.5h8.8m-4.4-4.4v8.8M288.1 422.5h8.8m-4.4-4.4v8.8M279.1 422.5h8.8m-4.4-4.4v8.8M293.1 422.5h8.8m-4.4-4.4v8.8M314.1 422.5h8.8m-4.4-4.4v8.8M280.1 423.5h8.8m-4.4-4.4v8.8M271.1 423.5h8.8m-4.4-4.4v8.8M307.1 423.5h8.8m-4.4-4.4v8.8M305.1 423.5h8.8m-4.4-4.4v8.8M267.1 424.5h8.8m-4.4-4.4v8.8M285.1 424.5h8.8m-4.4-4.4v8.8M284.1 424.5h8.8m-4.4-4.4v8.8M286.1 425.5h8.8m-4.4-4.4v8.8M260.1 425.5h8.8m-4.4-4.4v8.8M280.1 425.5h8.8m-4.4-4.4v8.8M301.1 425.5h8.8m-4.4-4.4v8.8M256.1 425.5h8.8m-4.4-4.4v8.8M272.1 426.5h8.8m-4.4-4.4v8.8M276.1 426.5h8.8m-4.4-4.4v8.8M307.1 426.5h8.8m-4.4-4.4v8.8M299.1 426.5h8.8m-4.4-4.4v8.8M312.1 426.5h8.8m-4.4-4.4v8.8M313.1 426.5h8.8m-4.4-4.4v8.8M314.1 427.5h8.8m-4.4-4.4v8.8M305.1 427.5h8.8m-4.4-4.4v8.8M319.1 428.5h8.8m-4.4-4.4v8.8M272.1 428.5h8.8m-4.4-4.4v8.8M322.1 428.5h8.8m-4.4-4.4v8.8M310.1 428.5h8.8m-4.4-4.4v8.8M304.1 428.5h8.8m-4.4-4.4v8.8M325.1 428.5h8.8m-4.4-4.4v8.8M299.1 429.5h8.8m-4.4-4.4v8.8M304.1 429.5h8.8m-4.4-4.4v8.8M281.1 429.5h8.8m-4.4-4.4v8.8M281.1 429.5h8.8m-4.4-4.4v8.8M316.1 429.5h8.8m-4.4-4.4v8.8M265.1 430.5h8.8m-4.4-4.4v8.8M324.1 430.5h8.8m-4.4-4.4v8.8M271.1 430.5h8.8m-4.4-4.4v8.8M302.1 430.5h8.8m-4.4-4.4v8.8M316.1 430.5h8.8m-4.4-4.4v8.8M273.1 430.5h8.8m-4.4-4.4v8.8M284.1 431.5h8.8m-4.4-4.4v8.8M300.1 431.5h8.8m-4.4-4.4v8.8M289.1 431.5h8.8m-4.4-4.4v8.8M292.1 431.5h8.8m-4.4-4.4v8.8M316.1 432.5h8.8m-4.4-4.4v8.8M294.1 432.5h8.8m-4.4-4.4v8.8M278.1 432.5h8.8m-4.4-4.4v8.8M292.1 432.5h8.8m-4.4-4.4v8.8M272.1 432.5h8.8m-4.4-4.4v8.8M312.1 432.5h8.8m-4.4-4.4v8.8M321.1 432.5h8.8m-4.4-4.4v8.8M258.1 433.5h8.8m-4.4-4.4v8.8M293.1 433.5h8.8m-4.4-4.4v8.8M289.1 433.5h8.8m-4.4-4.4v8.8M227.1 433.5h8.8m-4.4-4.4v8.8M272.1 434.5h8.8m-4.4-4.4v8.8M275.1 434.5h8.8m-4.4-4.4v8.8M294.1 434.5h8.8m-4.4-4.4v8.8M309.1 434.5h8.8m-4.4-4.4v8.8M278.1 434.5h8.8m-4.4-4.4v8.8M318.1 435.5h8.8m-4.4-4.4v8.8M314.1 435.5h8.8m-4.4-4.4v8.8M321.1 435.5h8.8m-4.4-4.4v8.8M314.1 435.5h8.8m-4.4-4.4v8.8M292.1 435.5h8.8m-4.4-4.4v8.8M311.1 435.5h8.8m-4.4-4.4v8.8M305.1 436.5h8.8m-4.4-4.4v8.8M272.1 436.5h8.8m-4.4-4.4v8.8M313.1 436.5h8.8m-4.4-4.4v8.8M263.1 437.5h8.8m-4.4-4.4v8.8M315.1 437.5h8.8m-4.4-4.4v8.8M323.1 437.5h8.8m-4.4-4.4v8.8M278.1 437.5h8.8m-4.4-4.4v8.8M329.1 438.5h8.8m-4.4-4.4v8.8M275.1 438.5h8.8m-4.4-4.4v8.8M279.1 438.5h8.8m-4.4-4.4v8.8M306.1 438.5h8.8m-4.4-4.4v8.8M298.1 438.5h8.8m-4.4-4.4v8.8M320.1 438.5h8.8m-4.4-4.4v8.8M262.1 439.5h8.8m-4.4-4.4v8.8M315.1 439.5h8.8m-4.4-4.4v8.8M280.1 439.5h8.8m-4.4-4.4v8.8M302.1 439.5h8.8m-4.4-4.4v8.8M321.1 439.5h8.8m-4.4-4.4v8.8M253.1 440.5h8.8m-4.4-4.4v8.8M313.1 440.5h8.8m-4.4-4.4v8.8M271.1 440.5h8.8m-4.4-4.4v8.8M286.1 440.5h8.8m-4.4-4.4v8.8M294.1 440.5h8.8m-4.4-4.4v8.8M299.1 440.5h8.8m-4.4-4.4v8.8M307.1 441.5h8.8m-4.4-4.4v8.8M326.1 441.5h8.8m-4.4-4.4v8.8M299.1 441.5h8.8m-4.4-4.4v8.8M303.1 441.5h8.8m-4.4-4.4v8.8M288.1 441.5h8.8m-4.4-4.4v8.8M288.1 441.5h8.8m-4.4-4.4v8.8M315.1 442.5h8.8m-4.4-4.4v8.8M288.1 442.5h8.8m-4.4-4.4v8.8M322.1 442.5h8.8m-4.4-4.4v8.8M300.1 442.5h8.8m-4.4-4.4v8.8M318.1 442.5h8.8m-4.4-4.4v8.8M312.1 442.5h8.8m-4.4-4.4v8.8M262.1 443.5h8.8m-4.4-4.4v8.8M271.1 443.5h8.8m-4.4-4.4v8.8M270.1 443.5h8.8m-4.4-4.4v8.8M310.1 443.5h8.8m-4.4-4.4v8.8M300.1 443.5h8.8m-4.4-4.4v8.8M315.1 443.5h8.8m-4.4-4.4v8.8M304.1 444.5h8.8m-4.4-4.4v8.8M279.1 444.5h8.8m-4.4-4.4v8.8M320.1 444.5h8.8m-4.4-4.4v8.8M292.1 444.5h8.8m-4.4-4.4v8.8M292.1 444.5h8.8m-4.4-4.4v8.8M277.1 444.5h8.8m-4.4-4.4v8.8M258.1 445.5h8.8m-4.4-4.4v8.8M317.1 445.5h8.8m-4.4-4.4v8.8M316.1 445.5h8.8m-4.4-4.4v8.8M319.1 445.5h8.8m-4.4-4.4v8.8M260.1 446.5h8.8m-4.4-4.4v8.8M328.1 446.5h8.8m-4.4-4.4v8.8M274.1 446.5h8.8m-4.4-4.4v8.8M296.1 446.5h8.8m-4.4-4.4v8.8M322.1 446.5h8.8m-4.4-4.4v8.8M326.1 446.5h8.8m-4.4-4.4v8.8M271.1 325.5h8.8m-4.4-4.4v8.8M252.1 354.5h8.8m-4.4-4.4v8.8M269.1 398.5h8.8m-4.4-4.4v8.8M265.1 369.5h8.8m-4.4-4.4v8.8M261.1 324.5h8.8m-4.4-4.4v8.8M265.1 420.5h8.8m-4.4-4.4v8.8M245.1 372.5h8.8m-4.4-4.4v8.8M250.1 416.5h8.8m-4.4-4.4v8.8M242.1 395.5h8.8m-4.4-4.4v8.8M271.1 423.5h8.8m-4.4-4.4v8.8M281.1 284.5h8.8m-4.4-4.4v8.8M282.1 292.5h8.8m-4.4-4.4v8.8M292.1 447.5h8.8m-4.4-4.4v8.8M319.1 451.5h8.8m-4.4-4.4v8.8M308.1 444.5h8.8m-4.4-4.4v8.8M310.1 444.5h8.8m-4.4-4.4v8.8M257.1 444.5h8.8m-4.4-4.4v8.8M277.1 444.5h8.8m-4.4-4.4v8.8M315.1 444.5h8.8m-4.4-4.4v8.8M256.1 440.5h8.8m-4.4-4.4v8.8M290.1 444.5h8.8m-4.4-4.4v8.8M315.1 444.5h8.8m-4.4-4.4v8.8M297.1 447.5h8.8m-4.4-4.4v8.8M266.1 447.5h8.8m-4.4-4.4v8.8M264.1 446.5h8.8m-4.4-4.4v8.8M252.1 447.5h8.8m-4.4-4.4v8.8M265.1 446.5h8.8m-4.4-4.4v8.8M329.1 444.5h8.8m-4.4-4.4v8.8M250.1 445.5h8.8m-4.4-4.4v8.8M290.1 445.5h8.8m-4.4-4.4v8.8M295.1 443.5h8.8m-4.4-4.4v8.8M247.1 441.5h8.8m-4.4-4.4v8.8M265.1 444.5h8.8m-4.4-4.4v8.8M274.1 443.5h8.8m-4.4-4.4v8.8M275.1 444.5h8.8m-4.4-4.4v8.8M287.1 450.5h8.8m-4.4-4.4v8.8M322.1 444.5h8.8m-4.4-4.4v8.8M287.1 446.5h8.8m-4.4-4.4v8.8M271.1 448.5h8.8m-4.4-4.4v8.8M261.1 450.5h8.8m-4.4-4.4v8.8M249.1 444.5h8.8m-4.4-4.4v8.8M268.1 445.5h8.8m-4.4-4.4v8.8M325.1 443.5h8.8m-4.4-4.4v8.8M329.1 449.5h8.8m-4.4-4.4v8.8M289.1 447.5h8.8m-4.4-4.4v8.8M333.1 442.5h8.8m-4.4-4.4v8.8M275.1 443.5h8.8m-4.4-4.4v8.8M292.1 446.5h8.8m-4.4-4.4v8.8M248.1 448.5h8.8m-4.4-4.4v8.8M265.1 445.5h8.8m-4.4-4.4v8.8M253.1 443.5h8.8m-4.4-4.4v8.8M292.1 445.5h8.8m-4.4-4.4v8.8M286.1 443.5h8.8m-4.4-4.4v8.8M275.1 444.5h8.8m-4.4-4.4v8.8M255.1 447.5h8.8m-4.4-4.4v8.8M297.1 445.5h8.8m-4.4-4.4v8.8M318.1 447.5h8.8m-4.4-4.4v8.8M309.1 443.5h8.8m-4.4-4.4v8.8M290.1 443.5h8.8m-4.4-4.4v8.8M334.1 446.5h8.8m-4.4-4.4v8.8M304.1 442.5h8.8m-4.4-4.4v8.8M318.1 449.5h8.8m-4.4-4.4v8.8M333.1 445.5h8.8m-4.4-4.4v8.8M332.1 443.5h8.8m-4.4-4.4v8.8M252.1 443.5h8.8m-4.4-4.4v8.8M273.1 447.5h8.8m-4.4-4.4v8.8M291.1 447.5h8.8m-4.4-4.4v8.8M274.1 443.5h8.8m-4.4-4.4v8.8M321.1 443.5h8.8m-4.4-4.4v8.8M296.1 443.5h8.8m-4.4-4.4v8.8M264.1 442.5h8.8m-4.4-4.4v8.8M327.1 443.5h8.8m-4.4-4.4v8.8M246.1 443.5h8.8m-4.4-4.4v8.8M303.1 442.5h8.8m-4.4-4.4v8.8M272.1 446.5h8.8m-4.4-4.4v8.8M333.1 445.5h8.8m-4.4-4.4v8.8M274.1 438.5h8.8m-4.4-4.4v8.8M258.1 441.5h8.8m-4.4-4.4v8.8M305.1 443.5h8.8m-4.4-4.4v8.8M289.1 444.5h8.8m-4.4-4.4v8.8M295.1 448.5h8.8m-4.4-4.4v8.8M303.1 447.5h8.8m-4.4-4.4v8.8M262.1 446.5h8.8m-4.4-4.4v8.8M318.1 448.5h8.8m-4.4-4.4v8.8M294.1 441.5h8.8m-4.4-4.4v8.8M279.1 446.5h8.8m-4.4-4.4v8.8M284.1 447.5h8.8m-4.4-4.4v8.8M310.1 448.5h8.8m-4.4-4.4v8.8M253.1 442.5h8.8m-4.4-4.4v8.8M297.1 443.5h8.8m-4.4-4.4v8.8M299.1 445.5h8.8m-4.4-4.4v8.8M307.1 443.5h8.8m-4.4-4.4v8.8M314.1 445.5h8.8m-4.4-4.4v8.8M319.1 443.5h8.8m-4.4-4.4v8.8M300.1 449.5h8.8m-4.4-4.4v8.8M330.1 446.5h8.8m-4.4-4.4v8.8M312.1 451.5h8.8m-4.4-4.4v8.8M307.1 452.5h8.8m-4.4-4.4v8.8M314.1 449.5h8.8m-4.4-4.4v8.8M320.1 448.5h8.8m-4.4-4.4v8.8M319.1 446.5h8.8m-4.4-4.4v8.8M349.1 450.5h8.8m-4.4-4.4v8.8M334.1 451.5h8.8m-4.4-4.4v8.8M320.1 453.5h8.8m-4.4-4.4v8.8M331.1 451.5h8.8m-4.4-4.4v8.8M360.1 458.5h8.8m-4.4-4.4v8.8M327.1 446.5h8.8m-4.4-4.4v8.8M335.1 452.5h8.8m-4.4-4.4v8.8M314.1 446.5h8.8m-4.4-4.4v8.8M323.1 451.5h8.8m-4.4-4.4v8.8M324.1 448.5h8.8m-4.4-4.4v8.8M332.1 450.5h8.8m-4.4-4.4v8.8M329.1 451.5h8.8m-4.4-4.4v8.8M342.1 448.5h8.8m-4.4-4.4v8.8M319.1 451.5h8.8m-4.4-4.4v8.8M332.1 448.5h8.8m-4.4-4.4v8.8M308.1 446.5h8.8m-4.4-4.4v8.8M320.1 453.5h8.8m-4.4-4.4v8.8M342.1 447.5h8.8m-4.4-4.4v8.8M329.1 453.5h8.8m-4.4-4.4v8.8M315.1 449.5h8.8m-4.4-4.4v8.8M328.1 449.5h8.8m-4.4-4.4v8.8M316.1 446.5h8.8m-4.4-4.4v8.8M313.1 454.5h8.8m-4.4-4.4v8.8M324.1 446.5h8.8m-4.4-4.4v8.8M326.1 446.5h8.8m-4.4-4.4v8.8M347.1 450.5h8.8m-4.4-4.4v8.8M316.1 447.5h8.8m-4.4-4.4v8.8M321.1 458.5h8.8m-4.4-4.4v8.8M347.1 447.5h8.8m-4.4-4.4v8.8M346.1 446.5h8.8m-4.4-4.4v8.8M328.1 446.5h8.8m-4.4-4.4v8.8M310.1 449.5h8.8m-4.4-4.4v8.8M346.1 446.5h8.8m-4.4-4.4v8.8M339.1 457.5h8.8m-4.4-4.4v8.8M307.1 447.5h8.8m-4.4-4.4v8.8M283.1 467.5h8.8m-4.4-4.4v8.8M342.1 449.5h8.8m-4.4-4.4v8.8M325.1 454.5h8.8m-4.4-4.4v8.8M316.1 456.5h8.8m-4.4-4.4v8.8M323.1 475.5h8.8m-4.4-4.4v8.8M343.1 457.5h8.8m-4.4-4.4v8.8M333.1 459.5h8.8m-4.4-4.4v8.8M348.1 462.5h8.8m-4.4-4.4v8.8M351.1 467.5h8.8m-4.4-4.4v8.8M354.1 451.5h8.8m-4.4-4.4v8.8M333.1 450.5h8.8m-4.4-4.4v8.8M350.1 444.5h8.8m-4.4-4.4v8.8M352.1 420.5h8.8m-4.4-4.4v8.8M356.1 444.5h8.8m-4.4-4.4v8.8M352.1 457.5h8.8m-4.4-4.4v8.8M358.1 440.5h8.8m-4.4-4.4v8.8M347.1 450.5h8.8m-4.4-4.4v8.8M343.1 449.5h8.8m-4.4-4.4v8.8M344.1 434.5h8.8m-4.4-4.4v8.8M351.1 431.5h8.8m-4.4-4.4v8.8M328.1 409.5h8.8m-4.4-4.4v8.8M203.1 298.5h8.8m-4.4-4.4v8.8M216.1 313.5h8.8m-4.4-4.4v8.8M241.1 266.5h8.8m-4.4-4.4v8.8M256.1 268.5h8.8m-4.4-4.4v8.8M245.1 281.5h8.8m-4.4-4.4v8.8M262.1 285.5h8.8m-4.4-4.4v8.8M258.1 296.5h8.8m-4.4-4.4v8.8M234.1 307.5h8.8m-4.4-4.4v8.8M271.1 304.5h8.8m-4.4-4.4v8.8M274.1 315.5h8.8m-4.4-4.4v8.8M299.1 255.5h8.8m-4.4-4.4v8.8M283.1 252.5h8.8m-4.4-4.4v8.8M297.1 273.5h8.8m-4.4-4.4v8.8M280.1 280.5h8.8m-4.4-4.4v8.8M301.1 282.5h8.8m-4.4-4.4v8.8M290.1 285.5h8.8m-4.4-4.4v8.8M319.1 297.5h8.8m-4.4-4.4v8.8M322.1 312.5h8.8m-4.4-4.4v8.8M328.1 327.5h8.8m-4.4-4.4v8.8M331.1 350.5h8.8m-4.4-4.4v8.8M310.1 341.5h8.8m-4.4-4.4v8.8M311.1 322.5h8.8m-4.4-4.4v8.8M329.1 390.5h8.8m-4.4-4.4v8.8M213.1 425.5h8.8m-4.4-4.4v8.8M260.1 452.5h8.8m-4.4-4.4v8.8M245.1 349.5h8.8m-4.4-4.4v8.8M373.1 398.5h8.8m-4.4-4.4v8.8M300.1 472.5h8.8m-4.4-4.4v8.8M319.1 477.5h8.8m-4.4-4.4v8.8M332.1 469.5h8.8m-4.4-4.4v8.8M366.1 467.5h8.8m-4.4-4.4v8.8M371.1 457.5h8.8m-4.4-4.4v8.8M305.1 66.5h8.8m-4.4-4.4v8.8M274.1 72.5h8.8m-4.4-4.4v8.8M206.1 258.5h8.8m-4.4-4.4v8.8M206.1 268.5h8.8m-4.4-4.4v8.8M205.1 282.5h8.8m-4.4-4.4v8.8M222.1 277.5h8.8m-4.4-4.4v8.8M239.1 292.5h8.8m-4.4-4.4v8.8M231.1 326.5h8.8m-4.4-4.4v8.8M198.1 361.5h8.8m-4.4-4.4v8.8M211.1 387.5h8.8m-4.4-4.4v8.8M240.1 398.5h8.8m-4.4-4.4v8.8M233.1 411.5h8.8m-4.4-4.4v8.8M239.1 436.5h8.8m-4.4-4.4v8.8M225.1 446.5h8.8m-4.4-4.4v8.8"/>
</g>
<g id="rough">
<use href="#x2" x="245.5" y="254.5"/>
<use href="#x2" x="225.5" y="273.5"/>
<use href="#x2" x="224.5" y="277.5"/>
<use href="#x2" x="226.5" y="277.5"/>
<use href="#x2" x="225.5" y="278.5"/>
<use href="#x2" x="237.5" y="271.5"/>
<use href="#x2" x="235.5" y="292.5"/>
<use href="#x2" x="243.5" y="292.5"/>
<use href="#x2" x="178.5" y="328.5"/>
<use href="#x2" x="178.5" y="329.5"/>
<use href="#x2" x="198.5" y="325.5"/>
<use href="#x2" x="235.5" y="326.5"/>
<use href="#x2" x="238.5" y="329.5"/>
<use href="#x2" x="228.5" y="350.5"/>
<use href="#x2" x="229.5" y="358.5"/>
<use href="#x2" x="202.5" y="361.5"/>
<use href="#x2" x="242.5" y="372.5"/>
<use href="#x2" x="238.5" y="382.5"/>
<use href="#x2" x="233.5" y="387.5"/>
<use href="#x2" x="215.5" y="387.5"/>
<use href="#x2" x="218.5" y="399.5"/>
<use href="#x2" x="222.5" y="407.5"/>
<use href="#x2" x="235.5" y="401.5"/>
<use href="#x2" x="244.5" y="398.5"/>
<use href="#x2" x="245.5" y="402.5"/>
<use href="#x2" x="243.5" y="407.5"/>
<use href="#x2" x="241.5" y="407.5"/>
<use href="#x2" x="237.5" y="411.5"/>
<use href="#x2" x="205.5" y="434.5"/>
<use href="#x2" x="234.5" y="461.5"/>
<use href="#x2" x="241.5" y="436.5"/>
<use href="#x2" x="243.5" y="436.5"/>
<use href="#x2" x="236.5" y="437.5"/>
<use href="#x2" x="238.5" y="446.5"/>
<use href="#x2" x="243.5" y="447.5"/>
<use href="#x2" x="229.5" y="446.5"/>
</g>
<g id="psf">
<use href="#o" x="233.2" y="443.4"/>
<use href="#o" x="228.8" y="443.9"/>
<use href="#o" x="206.4" y="443.0"/>
<use href="#o" x="219.4" y="443.1"/>
<use href="#o" x="232.5" y="443.2"/>
<use href="#o" x="229.7" y="443.9"/>
<use href="#o" x="235.2" y="444.1"/>
<use href="#o" x="231.0" y="443.3"/>
<use href="#o" x="204.3" y="443.2"/>
<use href="#o" x="232.9" y="444.3"/>
<use href="#o" x="204.5" y="443.1"/>
<use href="#o" x="208.4" y="443.0"/>
<use href="#o" x="211.1" y="443.5"/>
<use href="#o" x="219.1" y="444.3"/>
<use href="#o" x="203.8" y="444.1"/>
<use href="#o" x="227.1" y="443.1"/>
<use href="#o" x="237.1" y="444.3"/>
<use href="#o" x="203.3" y="444.3"/>
<use href="#o" x="205.5" y="443.0"/>
<use href="#o" x="219.2" y="443.0"/>
<use href="#o" x="214.5" y="443.7"/>
<use href="#o" x="239.2" y="443.1"/>
<use href="#o" x="239.3" y="444.2"/>
<use href="#o" x="216.6" y="443.9"/>
<use href="#o" x="209.4" y="443.2"/>
<use href="#o" x="237.3" y="442.8"/>
<use href="#o" x="235.5" y="444.3"/>
<use href="#o" x="234.6" y="444.0"/>
<use href="#o" x="204.7" y="442.9"/>
<use href="#o" x="223.4" y="443.7"/>
<use href="#o" x="234.7" y="443.2"/>
<use href="#o" x="204.2" y="443.4"/>
<use href="#o" x="239.7" y="443.5"/>
<use href="#o" x="206.9" y="443.8"/>
<use href="#o" x="228.9" y="443.5"/>
<use href="#o" x="242.5" y="444.2"/>
<use href="#o" x="204.0" y="444.1"/>
<use href="#o" x="229.5" y="443.9"/>
<use href="#o" x="213.8" y="444.1"/>
<use href="#o" x="244.6" y="443.8"/>
<use href="#o" x="207.3" y="443.8"/>
<use href="#o" x="241.1" y="444.1"/>
<use href="#o" x="225.3" y="443.1"/>
<use href="#o" x="209.1" y="443.7"/>
<use href="#o" x="207.3" y="443.5"/>
<use href="#o" x="242.4" y="443.6"/>
<use href="#o" x="215.7" y="443.1"/>
<use href="#o" x="234.0" y="442.9"/>
<use href="#o" x="208.6" y="443.7"/>
<use href="#o" x="203.7" y="443.0"/>
<use href="#o" x="241.4" y="443.8"/>
<use href="#o" x="207.1" y="444.0"/>
<use href="#o" x="241.4" y="443.0"/>
<use href="#o" x="225.5" y="443.5"/>
<use href="#o" x="221.3" y="443.8"/>
<use href="#o" x="231.3" y="443.0"/>
<use href="#o" x="219.7" y="443.7"/>
<use href="#o" x="234.4" y="443.8"/>
<use href="#o" x="227.8" y="443.7"/>
<use href="#o" x="243.9" y="443.7"/>
<use href="#o" x="206.1" y="443.9"/>
<use href="#o" x="215.5" y="444.2"/>
<use href="#o" x="205.8" y="444.0"/>
<use href="#o" x="222.6" y="444.1"/>
<use href="#o" x="212.3" y="444.0"/>
<use href="#o" x="214.1" y="443.9"/>
<use href="#o" x="217.7" y="443.2"/>
<use href="#o" x="226.7" y="443.6"/>
<use href="#o" x="211.0" y="443.9"/>
<use href="#o" x="223.9" y="443.4"/>
<use href="#o" x="207.2" y="444.3"/>
<use href="#o" x="236.2" y="443.0"/>
<use href="#o" x="241.6" y="444.3"/>
<use href="#o" x="224.4" y="443.5"/>
<use href="#o" x="234.5" y="443.7"/>
<use href="#o" x="219.6" y="443.1"/>
<use href="#o" x="227.5" y="444.3"/>
<use href="#o" x="241.4" y="443.3"/>
<use href="#o" x="207.2" y="444.2"/>
<use href="#o" x="227.1" y="442.9"/>
<use href="#o" x="216.1" y="444.1"/>
<use href="#o" x="206.1" y="443.4"/>
<use href="#o" x="207.5" y="444.2"/>
<use href="#o" x="206.8" y="444.3"/>
<use href="#o" x="227.5" y="443.5"/>
<use href="#o" x="218.8" y="443.9"/>
<use href="#o" x="226.9" y="443.4"/>
<use href="#o" x="226.0" y="443.6"/>
<use href="#o" x="216.4" y="444.2"/>
<use href="#o" x="236.4" y="443.4"/>
<use href="#o" x="229.8" y="443.6"/>
<use href="#o" x="238.9" y="443.3"/>
<use href="#o" x="222.3" y="443.8"/>
<use href="#o" x="218.8" y="444.2"/>
<use href="#o" x="226.3" y="443.4"/>
<use href="#o" x="242.9" y="443.8"/>
<use href="#o" x="240.4" y="442.9"/>
<use href="#o" x="214.0" y="443.8"/>
<use href="#o" x="207.2" y="444.1"/>
<use href="#o" x="221.6" y="444.3"/>
<use href="#o" x="231.9" y="442.9"/>
<use href="#o" x="218.7" y="443.7"/>
<use href="#o" x="216.7" y="443.0"/>
<use href="#o" x="240.7" y="443.5"/>
<use href="#o" x="228.9" y="443.6"/>
<use href="#o" x="219.3" y="444.0"/>
<use href="#o" x="212.5" y="444.2"/>
<use href="#o" x="232.4" y="442.8"/>
<use href="#o" x="233.0" y="443.4"/>
<use href="#o" x="239.3" y="443.3"/>
<use href="#o" x="236.6" y="442.9"/>
<use href="#o" x="227.9" y="442.9"/>
<use href="#o" x="240.5" y="443.2"/>
<use href="#o" x="236.7" y="444.0"/>
<use href="#o" x="214.7" y="443.4"/>
<use href="#o" x="244.1" y="443.5"/>
<use href="#o" x="207.5" y="444.1"/>
<use href="#o" x="233.6" y="443.9"/>
<use href="#o" x="209.7" y="443.6"/>
<use href="#o" x="215.2" y="443.9"/>
<use href="#o" x="212.0" y="444.3"/>
<use href="#o" x="212.7" y="443.8"/>
<use href="#o" x="223.1" y="444.3"/>
<use href="#o" x="232.9" y="443.5"/>
<use href="#o" x="220.8" y="443.2"/>
<use href="#o" x="236.4" y="443.3"/>
<use href="#o" x="235.8" y="443.0"/>
<use href="#o" x="233.9" y="444.1"/>
<use href="#o" x="234.0" y="443.2"/>
<use href="#o" x="235.8" y="443.7"/>
<use href="#o" x="212.1" y="444.2"/>
<use href="#o" x="229.9" y="443.8"/>
<use href="#o" x="213.0" y="443.0"/>
<use href="#o" x="221.5" y="444.1"/>
<use href="#o" x="216.5" y="444.0"/>
<use href="#o" x="204.3" y="444.1"/>
<use href="#o" x="239.9" y="442.8"/>
<use href="#o" x="227.8" y="443.6"/>
<use href="#o" x="239.0" y="443.3"/>
<use href="#o" x="218.7" y="443.1"/>
<use href="#o" x="208.6" y="443.4"/>
<use href="#o" x="225.1" y="444.0"/>
<use href="#o" x="231.4" y="444.0"/>
<use href="#o" x="219.2" y="444.1"/>
<use href="#o" x="207.2" y="444.2"/>
<use href="#o" x="209.7" y="443.4"/>
<use href="#o" x="203.3" y="443.4"/>
<use href="#o" x="205.9" y="443.9"/>
<use href="#o" x="220.9" y="443.8"/>
<use href="#o" x="232.5" y="443.6"/>
<use href="#o" x="208.8" y="443.2"/>
<use href="#o" x="243.3" y="443.6"/>
<use href="#o" x="208.9" y="444.0"/>
<use href="#o" x="228.8" y="444.2"/>
<use href="#o" x="213.4" y="443.0"/>
<use href="#o" x="222.1" y="443.1"/>
<use href="#o" x="243.9" y="443.8"/>
<use href="#o" x="244.6" y="443.6"/>
<use href="#o" x="234.2" y="444.3"/>
<use href="#o" x="241.1" y="444.3"/>
<use href="#o" x="208.8" y="442.8"/>
<use href="#o" x="208.5" y="443.8"/>
<use href="#o" x="233.3" y="443.3"/>
<use href="#o" x="212.4" y="444.0"/>
<use href="#o" x="234.0" y="443.6"/>
<use href="#o" x="242.9" y="443.2"/>
<use href="#o" x="233.4" y="443.0"/>
<use href="#o" x="221.1" y="442.9"/>
<use href="#o" x="210.0" y="443.8"/>
<use href="#o" x="239.1" y="443.3"/>
<use href="#o" x="241.4" y="443.5"/>
<use href="#o" x="220.6" y="443.8"/>
<use href="#o" x="243.9" y="443.9"/>
<use href="#o" x="232.1" y="444.1"/>
<use href="#o" x="214.4" y="443.7"/>
<use href="#o" x="215.7" y="443.6"/>
<use href="#o" x="217.8" y="443.6"/>
<use href="#o" x="218.8" y="443.5"/>
<use href="#o" x="235.2" y="444.0"/>
<use href="#o" x="231.5" y="443.5"/>
<use href="#o" x="223.0" y="443.0"/>
<use href="#o" x="224.4" y="443.7"/>
<use href="#o" x="223.7" y="443.6"/>
<use href="#o" x="231.6" y="444.0"/>
<use href="#o" x="210.8" y="443.3"/>
<use href="#o" x="243.1" y="442.8"/>
<use href="#o" x="235.1" y="443.4"/>
<use href="#o" x="226.9" y="443.5"/>
<use href="#o" x="234.4" y="443.5"/>
<use href="#o" x="237.5" y="443.0"/>
<use href="#o" x="212.7" y="444.2"/>
<use href="#o" x="236.1" y="443.6"/>
<use href="#o" x="225.0" y="443.0"/>
<use href="#o" x="224.0" y="444.3"/>
<use href="#o" x="228.0" y="443.6"/>
<use href="#o" x="213.8" y="443.4"/>
<use href="#o" x="236.4" y="443.7"/>
<use href="#o" x="215.7" y="443.5"/>
<use href="#o" x="234.5" y="442.9"/>
<use href="#o" x="205.2" y="444.1"/>
<use href="#o" x="226.5" y="443.1"/>
<use href="#o" x="235.8" y="443.5"/>
<use href="#o" x="203.7" y="444.1"/>
<use href="#o" x="224.7" y="443.8"/>
<use href="#o" x="209.9" y="443.3"/>
<use href="#o" x="223.8" y="443.7"/>
<use href="#o" x="241.5" y="443.4"/>
<use href="#o" x="220.4" y="443.8"/>
<use href="#o" x="227.9" y="442.9"/>
<use href="#o" x="236.9" y="444.1"/>
<use href="#o" x="209.3" y="443.2"/>
<use href="#o" x="237.0" y="444.1"/>
<use href="#o" x="217.5" y="443.8"/>
<use href="#o" x="216.9" y="444.0"/>
<use href="#o" x="227.3" y="443.7"/>
<use href="#o" x="219.6" y="444.3"/>
<use href="#o" x="222.8" y="442.9"/>
<use href="#o" x="206.1" y="443.1"/>
<use href="#o" x="215.4" y="443.8"/>
<use href="#o" x="236.5" y="444.0"/>
<use href="#o" x="234.8" y="442.8"/>
<use href="#o" x="203.7" y="443.2"/>
<use href="#o" x="228.2" y="443.0"/>
<use href="#o" x="210.7" y="443.6"/>
<use href="#o" x="227.6" y="443.2"/>
<use href="#o" x="219.0" y="443.9"/>
<use href="#o" x="236.8" y="443.3"/>
<use href="#o" x="231.3" y="443.6"/>
<use href="#o" x="233.5" y="443.7"/>
<use href="#o" x="236.5" y="442.9"/>
<use href="#o" x="216.4" y="444.2"/>
<use href="#o" x="204.4" y="443.5"/>
<use href="#o" x="224.5" y="443.8"/>
<use href="#o" x="234.9" y="444.3"/>
<use href="#o" x="217.0" y="444.0"/>
<use href="#o" x="214.5" y="443.0"/>
<use href="#o" x="223.4" y="442.8"/>
<use href="#o" x="232.6" y="444.2"/>
<use href="#o" x="217.8" y="442.9"/>
<use href="#o" x="226.6" y="444.0"/>
<use href="#o" x="234.8" y="443.7"/>
<use href="#o" x="237.5" y="443.4"/>
<use href="#o" x="233.3" y="443.1"/>
<use href="#o" x="220.8" y="444.3"/>
<use href="#o" x="215.6" y="443.0"/>
<use href="#o" x="224.1" y="443.3"/>
<use href="#o" x="228.1" y="443.5"/>
<use href="#o" x="223.6" y="443.9"/>
<use href="#o" x="234.7" y="444.2"/>
<use href="#o" x="214.3" y="443.3"/>
<use href="#o" x="216.4" y="443.7"/>
<use href="#o" x="208.9" y="443.9"/>
<use href="#o" x="205.8" y="443.3"/>
<use href="#o" x="218.2" y="444.0"/>
<use href="#o" x="240.4" y="443.0"/>
<use href="#o" x="234.5" y="444.2"/>
<use href="#o" x="239.4" y="443.1"/>
<use href="#o" x="226.0" y="443.7"/>
<use href="#o" x="209.8" y="443.2"/>
<use href="#o" x="217.3" y="443.8"/>
<use href="#o" x="220.2" y="444.0"/>
<use href="#o" x="208.3" y="443.7"/>
<use href="#o" x="223.9" y="444.1"/>
<use href="#o" x="222.8" y="443.8"/>
<use href="#o" x="238.3" y="443.9"/>
<use href="#o" x="204.7" y="443.1"/>
<use href="#o" x="224.5" y="443.7"/>
<use href="#o" x="225.5" y="443.8"/>
<use href="#o" x="225.8" y="444.0"/>
<use href="#o" x="232.9" y="443.4"/>
<use href="#o" x="204.4" y="444.0"/>
<use href="#o" x="229.7" y="443.2"/>
<use href="#o" x="218.4" y="443.0"/>
<use href="#o" x="209.1" y="443.9"/>
<use href="#o" x="226.6" y="443.8"/>
<use href="#o" x="222.3" y="443.6"/>
<use href="#o" x="243.1" y="443.7"/>
<use href="#o" x="220.1" y="443.6"/>
<use href="#o" x="231.9" y="442.8"/>
<use href="#o" x="211.1" y="443.2"/>
<use href="#o" x="239.7" y="443.5"/>
<use href="#o" x="217.6" y="443.3"/>
<use href="#o" x="218.5" y="443.2"/>
<use href="#o" x="210.6" y="444.3"/>
<use href="#o" x="206.5" y="444.0"/>
<use href="#o" x="228.7" y="442.9"/>
<use href="#o" x="207.6" y="444.2"/>
<use href="#o" x="220.2" y="443.0"/>
<use href="#o" x="209.1" y="442.9"/>
<use href="#o" x="233.5" y="442.9"/>
<use href="#o" x="233.6" y="443.2"/>
<use href="#o" x="211.9" y="443.6"/>
<use href="#o" x="235.2" y="443.8"/>
<use href="#o" x="205.7" y="443.2"/>
<use href="#o" x="209.6" y="443.2"/>
<use href="#o" x="222.1" y="442.9"/>
<use href="#o" x="239.3" y="444.3"/>
<use href="#o" x="216.6" y="444.3"/>
<use href="#o" x="216.7" y="443.1"/>
<use href="#o" x="241.9" y="443.2"/>
<use href="#o" x="203.0" y="442.7"/>
<use href="#o" x="203.0" y="444.4"/>
<use href="#o" x="245.4" y="442.7"/>
<use href="#o" x="245.4" y="444.4"/>
<rect x="198.7" y="438.3" width="50.9" height="10.4" rx="3.2" fill="#000" fill-opacity="0.45" stroke="#000" stroke-width="0.9"/>
<use href="#o" x="229.4" y="443.7"/>
<use href="#o" x="204.9" y="443.7"/>
<use href="#o" x="235.5" y="443.7"/>
<use href="#o" x="224.6" y="443.8"/>
<use href="#o" x="242.5" y="443.5"/>
<use href="#o" x="213.2" y="443.6"/>
</g>
<path d="M100.5 443.7H382.5" stroke="#0000ff" stroke-width="1.6" stroke-dasharray="8.33 8.33" fill="none"/>
<path d="M100.5 441.5H382.5" stroke="#0000ff" stroke-width="1.6" stroke-dasharray="4.17 6.94 1.39 6.94" fill="none"/>
<path d="M100.5 445.5H382.5" stroke="#0000ff" stroke-width="1.6" stroke-dasharray="4.17 6.94 1.39 6.94" fill="none"/>
<path d="M100.5 443.55H382.5" stroke="#ff0000" stroke-width="1.7" stroke-dasharray="8.33 8.33" fill="none"/>
</g>
<rect x="100.5" y="60.5" width="282.0" height="480.0" fill="none" stroke="#000" stroke-width="1.39"/>
<path d="M100.50 540.5v-5.56 M100.50 60.5v5.56 M138.50 540.5v-5.56 M138.50 60.5v5.56 M175.50 540.5v-5.56 M175.50 60.5v5.56 M213.50 540.5v-5.56 M213.50 60.5v5.56 M250.50 540.5v-5.56 M250.50 60.5v5.56 M288.50 540.5v-5.56 M288.50 60.5v5.56 M325.50 540.5v-5.56 M325.50 60.5v5.56 M363.50 540.5v-5.56 M363.50 60.5v5.56 M100.5 540.50h5.56 M382.5 540.50h-5.56 M100.5 420.50h5.56 M382.5 420.50h-5.56 M100.5 300.50h5.56 M382.5 300.50h-5.56 M100.5 180.50h5.56 M382.5 180.50h-5.56 M100.5 60.50h5.56 M382.5 60.50h-5.56" stroke="#000" stroke-width="0.7" fill="none"/>
<text transform="translate(100.00,559.85) scale(1,1.07)" font-size="16.67" text-anchor="middle">−20</text>
<text transform="translate(137.58,559.85) scale(1,1.07)" font-size="16.67" text-anchor="middle">−18</text>
<text transform="translate(175.15,559.85) scale(1,1.07)" font-size="16.67" text-anchor="middle">−16</text>
<text transform="translate(212.73,559.85) scale(1,1.07)" font-size="16.67" text-anchor="middle">−14</text>
<text transform="translate(250.30,559.85) scale(1,1.07)" font-size="16.67" text-anchor="middle">−12</text>
<text transform="translate(287.88,559.85) scale(1,1.07)" font-size="16.67" text-anchor="middle">−10</text>
<text transform="translate(325.45,559.85) scale(1,1.07)" font-size="16.67" text-anchor="middle">−8</text>
<text transform="translate(363.03,559.85) scale(1,1.07)" font-size="16.67" text-anchor="middle">−6</text>
<text transform="translate(100.00,49.80) scale(1,1.07)" font-size="16.67" text-anchor="middle">12</text>
<text transform="translate(137.58,49.80) scale(1,1.07)" font-size="16.67" text-anchor="middle">14</text>
<text transform="translate(175.15,49.80) scale(1,1.07)" font-size="16.67" text-anchor="middle">16</text>
<text transform="translate(212.73,49.80) scale(1,1.07)" font-size="16.67" text-anchor="middle">18</text>
<text transform="translate(250.30,49.80) scale(1,1.07)" font-size="16.67" text-anchor="middle">20</text>
<text transform="translate(287.88,49.80) scale(1,1.07)" font-size="16.67" text-anchor="middle">22</text>
<text transform="translate(325.45,49.80) scale(1,1.07)" font-size="16.67" text-anchor="middle">24</text>
<text transform="translate(363.03,49.80) scale(1,1.07)" font-size="16.67" text-anchor="middle">26</text>
<text transform="translate(94.90,544.85) scale(1,1.07)" font-size="16.67" text-anchor="end">0</text>
<text transform="translate(94.90,424.85) scale(1,1.07)" font-size="16.67" text-anchor="end">5</text>
<text transform="translate(94.90,304.85) scale(1,1.07)" font-size="16.67" text-anchor="end">10</text>
<text transform="translate(94.90,184.85) scale(1,1.07)" font-size="16.67" text-anchor="end">15</text>
<text transform="translate(94.90,64.85) scale(1,1.07)" font-size="16.67" text-anchor="end">20</text>
<text x="226.75" y="28.80" font-size="20.00" text-anchor="middle" >FWHM vs magnitudes</text>
<text transform="translate(242.70,583.70) scale(1,1.07)" font-size="16.67" text-anchor="middle">magnitude (bottom:isnt / top:calib)</text>
<text transform="translate(63.8,299.8) rotate(-90) scale(1,1.07)" font-size="16.67" text-anchor="middle">FWHM (pix)</text>
<g clip-path="url(#c2)">
<rect x="438.5" y="458.4" width="1.00" height="64.30" fill="#0000ff" stroke="#000" stroke-width="1.39"/>
<rect x="438.5" y="266.5" width="208.98" height="63.50" fill="#0000ff" stroke="#000" stroke-width="1.39"/>
<rect x="438.5" y="202.2" width="4.53" height="64.30" fill="#0000ff" stroke="#000" stroke-width="1.39"/>
<rect x="438.5" y="137.5" width="1.00" height="64.70" fill="#0000ff" stroke="#000" stroke-width="1.39"/>
<path d="M438.5 300.5H682" stroke="#000" stroke-width="1.39" stroke-dasharray="8.33 8.33" fill="none"/>
</g>
<rect x="438.5" y="60.5" width="282.0" height="480.0" fill="none" stroke="#000" stroke-width="1.39"/>
<path d="M438.50 540.5v-5.56 M438.50 60.5v5.56 M473.50 540.5v-5.56 M473.50 60.5v5.56 M509.50 540.5v-5.56 M509.50 60.5v5.56 M544.50 540.5v-5.56 M544.50 60.5v5.56 M579.50 540.5v-5.56 M579.50 60.5v5.56 M614.50 540.5v-5.56 M614.50 60.5v5.56 M650.50 540.5v-5.56 M650.50 60.5v5.56 M685.50 540.5v-5.56 M685.50 60.5v5.56 M720.50 540.5v-5.56 M720.50 60.5v5.56 M438.5 540.50h5.56 M720.5 540.50h-5.56 M438.5 480.50h5.56 M720.5 480.50h-5.56 M438.5 420.50h5.56 M720.5 420.50h-5.56 M438.5 360.50h5.56 M720.5 360.50h-5.56 M438.5 300.50h5.56 M720.5 300.50h-5.56 M438.5 240.50h5.56 M720.5 240.50h-5.56 M438.5 180.50h5.56 M720.5 180.50h-5.56 M438.5 120.50h5.56 M720.5 120.50h-5.56 M438.5 60.50h5.56 M720.5 60.50h-5.56" stroke="#000" stroke-width="0.7" fill="none"/>
<text transform="translate(438.18,559.85) scale(1,1.07)" font-size="16.67" text-anchor="middle">0</text>
<text transform="translate(473.41,559.85) scale(1,1.07)" font-size="16.67" text-anchor="middle">50</text>
<text transform="translate(508.63,559.85) scale(1,1.07)" font-size="16.67" text-anchor="middle">100</text>
<text transform="translate(543.86,559.85) scale(1,1.07)" font-size="16.67" text-anchor="middle">150</text>
<text transform="translate(579.09,559.85) scale(1,1.07)" font-size="16.67" text-anchor="middle">200</text>
<text transform="translate(614.32,559.85) scale(1,1.07)" font-size="16.67" text-anchor="middle">250</text>
<text transform="translate(649.55,559.85) scale(1,1.07)" font-size="16.67" text-anchor="middle">300</text>
<text transform="translate(684.77,559.85) scale(1,1.07)" font-size="16.67" text-anchor="middle">350</text>
<text transform="translate(720.00,559.85) scale(1,1.07)" font-size="16.67" text-anchor="middle">400</text>
<text transform="translate(433.50,544.95) scale(1,1.07)" font-size="16.67" text-anchor="end">3.2</text>
<text transform="translate(433.50,484.95) scale(1,1.07)" font-size="16.67" text-anchor="end">3.4</text>
<text transform="translate(433.50,424.95) scale(1,1.07)" font-size="16.67" text-anchor="end">3.6</text>
<text transform="translate(433.50,364.95) scale(1,1.07)" font-size="16.67" text-anchor="end">3.8</text>
<text transform="translate(433.50,304.95) scale(1,1.07)" font-size="16.67" text-anchor="end">4.0</text>
<text transform="translate(433.50,244.95) scale(1,1.07)" font-size="16.67" text-anchor="end">4.2</text>
<text transform="translate(433.50,184.95) scale(1,1.07)" font-size="16.67" text-anchor="end">4.4</text>
<text transform="translate(433.50,124.95) scale(1,1.07)" font-size="16.67" text-anchor="end">4.6</text>
<text transform="translate(433.50,64.95) scale(1,1.07)" font-size="16.67" text-anchor="end">4.8</text>
<text x="579.50" y="52.80" font-size="20.00" text-anchor="middle" >histogram of FWHM</text>
<text transform="translate(579.50,583.70) scale(1,1.07)" font-size="16.67" text-anchor="middle">number of sources</text>
<text transform="translate(396.4,300.0) rotate(-90) scale(1,1.07)" font-size="16.67" text-anchor="middle">FWHM of best-effort PSF-like sources</text>
<rect x="27.5" y="70.5" width="345" height="180" fill="#fff" stroke="#000" stroke-width="1.39"/>
<use href="#p" x="41.5" y="86.5"/>
<use href="#p" x="69.5" y="86.5"/>
<use href="#x" x="41.5" y="115.5"/>
<use href="#x" x="69.5" y="115.5"/>
<use href="#o" x="41.5" y="144.4"/>
<use href="#o" x="69.5" y="144.4"/>
<path d="M41.2 173.5H69.2" stroke="#0000ff" stroke-width="1.39" stroke-dasharray="8.33 8.33" fill="none"/>
<path d="M41.2 202.3H69.2" stroke="#ff0000" stroke-width="1.39" stroke-dasharray="8.33 8.33" fill="none"/>
<path d="M41.2 231.25H69.2" stroke="#0000ff" stroke-width="1.39" stroke-dasharray="4.17 6.94 1.39 6.94" fill="none"/>
<text x="91.30" y="92.50" font-size="20.00" text-anchor="start" >all sample</text>
<text x="91.30" y="121.50" font-size="20.00" text-anchor="start" >sample for rough FWHM</text>
<text x="91.30" y="150.50" font-size="20.00" text-anchor="start" >best-effort PSF-like sample</text>
<text x="91.30" y="179.50" font-size="20.00" text-anchor="start" >resultant FWHM: 4.00</text>
<text x="91.30" y="208.50" font-size="20.00" text-anchor="start" >median FHWM of sequence</text>
<text x="91.30" y="237.50" font-size="20.00" text-anchor="start" >sigma range</text>
</svg>
</body></html>
